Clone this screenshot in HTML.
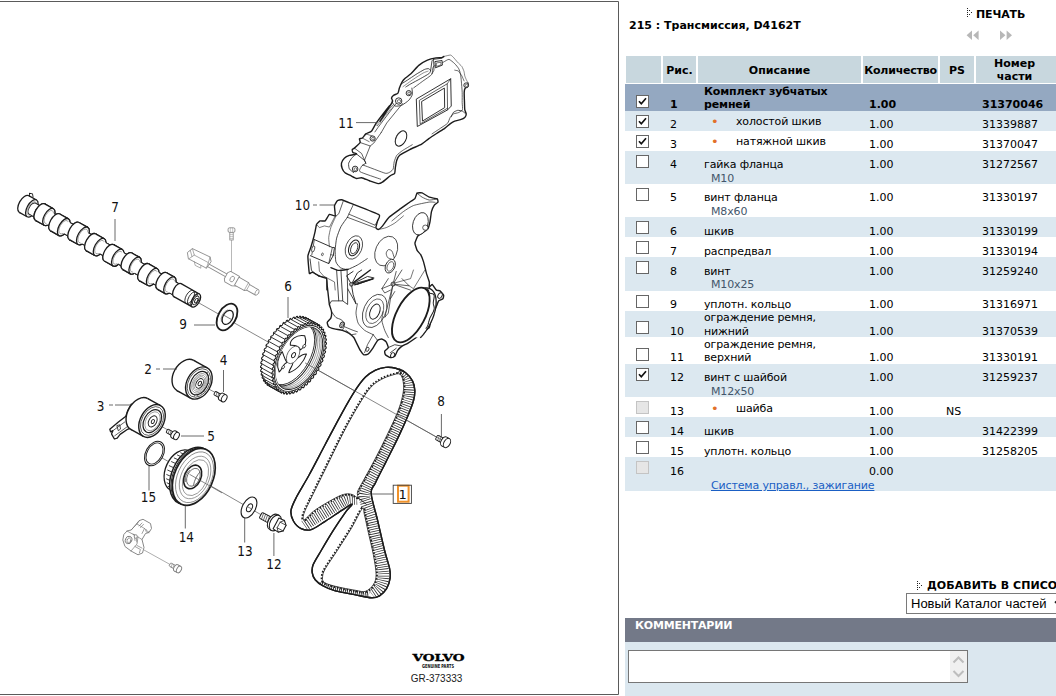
<!DOCTYPE html>
<html lang="ru"><head><meta charset="utf-8"><title>215 : Трансмиссия, D4162T</title>
<style>
html,body{margin:0;padding:0;background:#fff;}
body{width:1056px;height:696px;overflow:hidden;position:relative;font-family:"DejaVu Sans","Liberation Sans",sans-serif;font-size:11px;color:#000;line-height:13px;}
.a{position:absolute;white-space:nowrap;}
.b{font-weight:bold;}
.hd{position:absolute;top:56px;height:27px;background:#c8d7de;font-weight:bold;text-align:center;}
.row{position:absolute;left:625px;width:431px;}
.cb{position:absolute;left:11px;width:11px;height:11px;border:1px solid #666;background:#fff;}
.cb.dis{border-color:#c4c4c4;background:#e6e6e6;}
.cb svg{position:absolute;left:0;top:0;}
.t{position:absolute;white-space:nowrap;}
.d{letter-spacing:-0.15px;}
.sub{color:#43566b;}
.dot{color:#e2702a;}
a.lk{color:#1a5fc4;text-decoration:underline;}
#diagram{position:absolute;left:0;top:0;}
</style></head><body>
<svg id="diagram" width="620" height="696" viewBox="0 0 620 696" font-family="'DejaVu Sans Condensed','DejaVu Sans','Liberation Sans',sans-serif" fill="#111">
<path d="M0 1.5H618.5V694.5H0" fill="none" stroke="#5a5a5a" stroke-width="1"/>
<path d="M199 303 L447 443" fill="none" stroke="#555" stroke-width="0.7"/>
<path d="M199 384 L222 396" fill="none" stroke="#555" stroke-width="0.7"/>
<path d="M152 421 L175 434" fill="none" stroke="#555" stroke-width="0.7"/>
<path d="M150 451 L279 525" fill="none" stroke="#555" stroke-width="0.7"/>
<path d="M144 550 L171 565" fill="none" stroke="#777" stroke-width="0.6"/>
<path d="M231.5 238 L231.5 277" fill="none" stroke="#888" stroke-width="0.6"/>
<g transform="translate(24 204) rotate(29.3)">
<ellipse cx="2" cy="0" rx="3.15" ry="6.3" fill="#fff" stroke="#1c1c1c" stroke-width="1.0"/>
<rect x="2" y="-6.3" width="176" height="12.6" fill="#fff"/>
<path d="M2 -6.3H178M2 6.3H178" stroke="#1c1c1c" stroke-width="1.0" fill="none"/>
<ellipse cx="178" cy="0" rx="3.15" ry="6.3" fill="#fff" stroke="#1c1c1c" stroke-width="1.0"/>
<ellipse cx="0" cy="0" rx="4.8" ry="9.6" fill="#fff" stroke="#1c1c1c" stroke-width="1.3"/>
<rect x="0" y="-9.6" width="9" height="19.2" fill="#fff"/>
<path d="M0 -9.6H9M0 9.6H9" stroke="#1c1c1c" stroke-width="1.3" fill="none"/>
<ellipse cx="9" cy="0" rx="4.8" ry="9.6" fill="#fff" stroke="#1c1c1c" stroke-width="1.3"/>
<ellipse cx="9" cy="0" rx="3.7" ry="7.4" fill="none" stroke="#555" stroke-width="0.5"/>
<ellipse cx="9.5" cy="0" rx="3.15" ry="6.3" fill="#fff" stroke="#1c1c1c" stroke-width="0.9"/>
<rect x="9.5" y="-6.3" width="11.5" height="12.6" fill="#fff"/>
<path d="M9.5 -6.3H21M9.5 6.3H21" stroke="#1c1c1c" stroke-width="0.9" fill="none"/>
<ellipse cx="18" cy="-0.8" rx="4.7" ry="9.4" fill="#fff" stroke="#1c1c1c" stroke-width="1.3"/>
<rect x="18" y="-10.2" width="10" height="18.8" fill="#fff"/>
<path d="M18 -10.2H28M18 8.6H28" stroke="#1c1c1c" stroke-width="1.3" fill="none"/>
<ellipse cx="28" cy="-0.8" rx="4.7" ry="9.4" fill="#fff" stroke="#1c1c1c" stroke-width="1.3"/>
<ellipse cx="28" cy="-0.8" rx="3.6" ry="7.2" fill="none" stroke="#555" stroke-width="0.5"/>
<ellipse cx="28.5" cy="0" rx="3.15" ry="6.3" fill="#fff" stroke="#1c1c1c" stroke-width="0.9"/>
<rect x="28.5" y="-6.3" width="10.5" height="12.6" fill="#fff"/>
<path d="M28.5 -6.3H39M28.5 6.3H39" stroke="#1c1c1c" stroke-width="0.9" fill="none"/>
<ellipse cx="36" cy="0.8" rx="4.8" ry="9.6" fill="#fff" stroke="#1c1c1c" stroke-width="1.3"/>
<rect x="36" y="-8.8" width="10" height="19.2" fill="#fff"/>
<path d="M36 -8.8H46M36 10.4H46" stroke="#1c1c1c" stroke-width="1.3" fill="none"/>
<ellipse cx="46" cy="0.8" rx="4.8" ry="9.6" fill="#fff" stroke="#1c1c1c" stroke-width="1.3"/>
<ellipse cx="46" cy="0.8" rx="3.7" ry="7.4" fill="none" stroke="#555" stroke-width="0.5"/>
<ellipse cx="46.5" cy="0" rx="3.15" ry="6.3" fill="#fff" stroke="#1c1c1c" stroke-width="0.9"/>
<rect x="46.5" y="-6.3" width="13.5" height="12.6" fill="#fff"/>
<path d="M46.5 -6.3H60M46.5 6.3H60" stroke="#1c1c1c" stroke-width="0.9" fill="none"/>
<ellipse cx="57" cy="-1" rx="4.9" ry="9.8" fill="#fff" stroke="#1c1c1c" stroke-width="1.3"/>
<rect x="57" y="-10.8" width="10" height="19.6" fill="#fff"/>
<path d="M57 -10.8H67M57 8.8H67" stroke="#1c1c1c" stroke-width="1.3" fill="none"/>
<ellipse cx="67" cy="-1" rx="4.9" ry="9.8" fill="#fff" stroke="#1c1c1c" stroke-width="1.3"/>
<ellipse cx="67" cy="-1" rx="3.8" ry="7.6" fill="none" stroke="#555" stroke-width="0.5"/>
<ellipse cx="67.5" cy="0" rx="3.15" ry="6.3" fill="#fff" stroke="#1c1c1c" stroke-width="0.9"/>
<rect x="67.5" y="-6.3" width="12.5" height="12.6" fill="#fff"/>
<path d="M67.5 -6.3H80M67.5 6.3H80" stroke="#1c1c1c" stroke-width="0.9" fill="none"/>
<ellipse cx="77" cy="0.6" rx="4.8" ry="9.6" fill="#fff" stroke="#1c1c1c" stroke-width="1.3"/>
<rect x="77" y="-9" width="10" height="19.2" fill="#fff"/>
<path d="M77 -9H87M77 10.2H87" stroke="#1c1c1c" stroke-width="1.3" fill="none"/>
<ellipse cx="87" cy="0.6" rx="4.8" ry="9.6" fill="#fff" stroke="#1c1c1c" stroke-width="1.3"/>
<ellipse cx="87" cy="0.6" rx="3.7" ry="7.4" fill="none" stroke="#555" stroke-width="0.5"/>
<ellipse cx="87.5" cy="0" rx="3.15" ry="6.3" fill="#fff" stroke="#1c1c1c" stroke-width="0.9"/>
<rect x="87.5" y="-6.3" width="13.5" height="12.6" fill="#fff"/>
<path d="M87.5 -6.3H101M87.5 6.3H101" stroke="#1c1c1c" stroke-width="0.9" fill="none"/>
<ellipse cx="98" cy="1" rx="4.7" ry="9.4" fill="#fff" stroke="#1c1c1c" stroke-width="1.3"/>
<rect x="98" y="-8.4" width="10" height="18.8" fill="#fff"/>
<path d="M98 -8.4H108M98 10.4H108" stroke="#1c1c1c" stroke-width="1.3" fill="none"/>
<ellipse cx="108" cy="1" rx="4.7" ry="9.4" fill="#fff" stroke="#1c1c1c" stroke-width="1.3"/>
<ellipse cx="108" cy="1" rx="3.6" ry="7.2" fill="none" stroke="#555" stroke-width="0.5"/>
<ellipse cx="108.5" cy="0" rx="3.15" ry="6.3" fill="#fff" stroke="#1c1c1c" stroke-width="0.9"/>
<rect x="108.5" y="-6.3" width="12.5" height="12.6" fill="#fff"/>
<path d="M108.5 -6.3H121M108.5 6.3H121" stroke="#1c1c1c" stroke-width="0.9" fill="none"/>
<ellipse cx="118" cy="-0.6" rx="4.7" ry="9.4" fill="#fff" stroke="#1c1c1c" stroke-width="1.3"/>
<rect x="118" y="-10" width="9" height="18.8" fill="#fff"/>
<path d="M118 -10H127M118 8.8H127" stroke="#1c1c1c" stroke-width="1.3" fill="none"/>
<ellipse cx="127" cy="-0.6" rx="4.7" ry="9.4" fill="#fff" stroke="#1c1c1c" stroke-width="1.3"/>
<ellipse cx="127" cy="-0.6" rx="3.6" ry="7.2" fill="none" stroke="#555" stroke-width="0.5"/>
<ellipse cx="127.5" cy="0" rx="3.15" ry="6.3" fill="#fff" stroke="#1c1c1c" stroke-width="0.9"/>
<rect x="127.5" y="-6.3" width="13.5" height="12.6" fill="#fff"/>
<path d="M127.5 -6.3H141M127.5 6.3H141" stroke="#1c1c1c" stroke-width="0.9" fill="none"/>
<ellipse cx="138" cy="0.8" rx="4.8" ry="9.6" fill="#fff" stroke="#1c1c1c" stroke-width="1.3"/>
<rect x="138" y="-8.8" width="10" height="19.2" fill="#fff"/>
<path d="M138 -8.8H148M138 10.4H148" stroke="#1c1c1c" stroke-width="1.3" fill="none"/>
<ellipse cx="148" cy="0.8" rx="4.8" ry="9.6" fill="#fff" stroke="#1c1c1c" stroke-width="1.3"/>
<ellipse cx="148" cy="0.8" rx="3.7" ry="7.4" fill="none" stroke="#555" stroke-width="0.5"/>
<ellipse cx="148.5" cy="0" rx="3.15" ry="6.3" fill="#fff" stroke="#1c1c1c" stroke-width="0.9"/>
<rect x="148.5" y="-6.3" width="12.5" height="12.6" fill="#fff"/>
<path d="M148.5 -6.3H161M148.5 6.3H161" stroke="#1c1c1c" stroke-width="0.9" fill="none"/>
<ellipse cx="158" cy="-0.4" rx="4.7" ry="9.4" fill="#fff" stroke="#1c1c1c" stroke-width="1.3"/>
<rect x="158" y="-9.8" width="9" height="18.8" fill="#fff"/>
<path d="M158 -9.8H167M158 9H167" stroke="#1c1c1c" stroke-width="1.3" fill="none"/>
<ellipse cx="167" cy="-0.4" rx="4.7" ry="9.4" fill="#fff" stroke="#1c1c1c" stroke-width="1.3"/>
<ellipse cx="167" cy="-0.4" rx="3.6" ry="7.2" fill="none" stroke="#555" stroke-width="0.5"/>
<ellipse cx="167.5" cy="0" rx="3.15" ry="6.3" fill="#fff" stroke="#1c1c1c" stroke-width="0.9"/>
<rect x="167.5" y="-6.3" width="13.5" height="12.6" fill="#fff"/>
<path d="M167.5 -6.3H181M167.5 6.3H181" stroke="#1c1c1c" stroke-width="0.9" fill="none"/>
<ellipse cx="18" cy="-0.8" rx="4.7" ry="9.4" fill="#fff" stroke="#1c1c1c" stroke-width="1.3"/>
<rect x="18" y="-10.2" width="10" height="18.8" fill="#fff"/>
<path d="M18 -10.2H28M18 8.6H28" stroke="#1c1c1c" stroke-width="1.3" fill="none"/>
<ellipse cx="28" cy="-0.8" rx="4.7" ry="9.4" fill="#fff" stroke="#1c1c1c" stroke-width="1.3"/>
<ellipse cx="28" cy="-0.8" rx="3.6" ry="7.2" fill="none" stroke="#555" stroke-width="0.5"/>
<rect x="29" y="-6.3" width="7" height="12.6" fill="#fff"/>
<path d="M31.2 -6.3H36M31.2 6.3H36" stroke="#1c1c1c" stroke-width="0.9" fill="none"/>
<ellipse cx="36" cy="0.8" rx="4.8" ry="9.6" fill="#fff" stroke="#1c1c1c" stroke-width="1.3"/>
<rect x="36" y="-8.8" width="10" height="19.2" fill="#fff"/>
<path d="M36 -8.8H46M36 10.4H46" stroke="#1c1c1c" stroke-width="1.3" fill="none"/>
<ellipse cx="46" cy="0.8" rx="4.8" ry="9.6" fill="#fff" stroke="#1c1c1c" stroke-width="1.3"/>
<ellipse cx="46" cy="0.8" rx="3.7" ry="7.4" fill="none" stroke="#555" stroke-width="0.5"/>
<rect x="47" y="-6.3" width="8" height="12.6" fill="#fff"/>
<path d="M49.2 -6.3H57M49.2 6.3H57" stroke="#1c1c1c" stroke-width="0.9" fill="none"/>
<ellipse cx="57" cy="-1" rx="4.9" ry="9.8" fill="#fff" stroke="#1c1c1c" stroke-width="1.3"/>
<rect x="57" y="-10.8" width="10" height="19.6" fill="#fff"/>
<path d="M57 -10.8H67M57 8.8H67" stroke="#1c1c1c" stroke-width="1.3" fill="none"/>
<ellipse cx="67" cy="-1" rx="4.9" ry="9.8" fill="#fff" stroke="#1c1c1c" stroke-width="1.3"/>
<ellipse cx="67" cy="-1" rx="3.8" ry="7.6" fill="none" stroke="#555" stroke-width="0.5"/>
<rect x="68" y="-6.3" width="8" height="12.6" fill="#fff"/>
<path d="M70.2 -6.3H77M70.2 6.3H77" stroke="#1c1c1c" stroke-width="0.9" fill="none"/>
<ellipse cx="77" cy="0.6" rx="4.8" ry="9.6" fill="#fff" stroke="#1c1c1c" stroke-width="1.3"/>
<rect x="77" y="-9" width="10" height="19.2" fill="#fff"/>
<path d="M77 -9H87M77 10.2H87" stroke="#1c1c1c" stroke-width="1.3" fill="none"/>
<ellipse cx="87" cy="0.6" rx="4.8" ry="9.6" fill="#fff" stroke="#1c1c1c" stroke-width="1.3"/>
<ellipse cx="87" cy="0.6" rx="3.7" ry="7.4" fill="none" stroke="#555" stroke-width="0.5"/>
<rect x="88" y="-6.3" width="8" height="12.6" fill="#fff"/>
<path d="M90.2 -6.3H98M90.2 6.3H98" stroke="#1c1c1c" stroke-width="0.9" fill="none"/>
<ellipse cx="98" cy="1" rx="4.7" ry="9.4" fill="#fff" stroke="#1c1c1c" stroke-width="1.3"/>
<rect x="98" y="-8.4" width="10" height="18.8" fill="#fff"/>
<path d="M98 -8.4H108M98 10.4H108" stroke="#1c1c1c" stroke-width="1.3" fill="none"/>
<ellipse cx="108" cy="1" rx="4.7" ry="9.4" fill="#fff" stroke="#1c1c1c" stroke-width="1.3"/>
<ellipse cx="108" cy="1" rx="3.6" ry="7.2" fill="none" stroke="#555" stroke-width="0.5"/>
<rect x="109" y="-6.3" width="8" height="12.6" fill="#fff"/>
<path d="M111.2 -6.3H118M111.2 6.3H118" stroke="#1c1c1c" stroke-width="0.9" fill="none"/>
<ellipse cx="118" cy="-0.6" rx="4.7" ry="9.4" fill="#fff" stroke="#1c1c1c" stroke-width="1.3"/>
<rect x="118" y="-10" width="9" height="18.8" fill="#fff"/>
<path d="M118 -10H127M118 8.8H127" stroke="#1c1c1c" stroke-width="1.3" fill="none"/>
<ellipse cx="127" cy="-0.6" rx="4.7" ry="9.4" fill="#fff" stroke="#1c1c1c" stroke-width="1.3"/>
<ellipse cx="127" cy="-0.6" rx="3.6" ry="7.2" fill="none" stroke="#555" stroke-width="0.5"/>
<rect x="128" y="-6.3" width="8" height="12.6" fill="#fff"/>
<path d="M130.2 -6.3H138M130.2 6.3H138" stroke="#1c1c1c" stroke-width="0.9" fill="none"/>
<ellipse cx="138" cy="0.8" rx="4.8" ry="9.6" fill="#fff" stroke="#1c1c1c" stroke-width="1.3"/>
<rect x="138" y="-8.8" width="10" height="19.2" fill="#fff"/>
<path d="M138 -8.8H148M138 10.4H148" stroke="#1c1c1c" stroke-width="1.3" fill="none"/>
<ellipse cx="148" cy="0.8" rx="4.8" ry="9.6" fill="#fff" stroke="#1c1c1c" stroke-width="1.3"/>
<ellipse cx="148" cy="0.8" rx="3.7" ry="7.4" fill="none" stroke="#555" stroke-width="0.5"/>
<rect x="149" y="-6.3" width="8" height="12.6" fill="#fff"/>
<path d="M151.2 -6.3H158M151.2 6.3H158" stroke="#1c1c1c" stroke-width="0.9" fill="none"/>
<ellipse cx="158" cy="-0.4" rx="4.7" ry="9.4" fill="#fff" stroke="#1c1c1c" stroke-width="1.3"/>
<rect x="158" y="-9.8" width="9" height="18.8" fill="#fff"/>
<path d="M158 -9.8H167M158 9H167" stroke="#1c1c1c" stroke-width="1.3" fill="none"/>
<ellipse cx="167" cy="-0.4" rx="4.7" ry="9.4" fill="#fff" stroke="#1c1c1c" stroke-width="1.3"/>
<ellipse cx="167" cy="-0.4" rx="3.6" ry="7.2" fill="none" stroke="#555" stroke-width="0.5"/>
<rect x="168" y="-6.3" width="8" height="12.6" fill="#fff"/>
<path d="M170.2 -6.3H178M170.2 6.3H178" stroke="#1c1c1c" stroke-width="0.9" fill="none"/>
<ellipse cx="176" cy="0" rx="3.7" ry="7.4" fill="#fff" stroke="#1c1c1c" stroke-width="1.3"/>
<rect x="176" y="-7.4" width="21" height="14.8" fill="#fff"/>
<path d="M176 -7.4H197M176 7.4H197" stroke="#1c1c1c" stroke-width="1.3" fill="none"/>
<ellipse cx="197" cy="0" rx="3.7" ry="7.4" fill="#fff" stroke="#1c1c1c" stroke-width="1.3"/>
<ellipse cx="190" cy="0" rx="3.7" ry="7.4" fill="none" stroke="#1c1c1c" stroke-width="0.8"/>
<ellipse cx="193" cy="0" rx="3.7" ry="7.4" fill="none" stroke="#1c1c1c" stroke-width="0.8"/>
<ellipse cx="197" cy="0" rx="2.4" ry="4.8" fill="#fff" stroke="#1c1c1c" stroke-width="0.9"/>
<ellipse cx="197.5" cy="0" rx="1.25" ry="2.5" fill="#fff" stroke="#1c1c1c" stroke-width="0.9"/>
<path d="M1 -9.5 l-1.5 -2.5 l3 -1 l2 2.5" fill="none" stroke="#1c1c1c" stroke-width="0.9" stroke-linejoin="round" stroke-linecap="round"/>
</g>
<path d="M115 219 L115 241" fill="none" stroke="#444" stroke-width="0.8"/>
<text x="115" y="212" font-size="13.4" text-anchor="middle">7</text>
<g transform="translate(227 317) rotate(29.3)">
<ellipse cx="0" cy="0" rx="8.8" ry="14.4" fill="#fff" stroke="#1c1c1c" stroke-width="1.8"/>
<ellipse cx="0.8" cy="0" rx="4.8" ry="7.6" fill="#fff" stroke="#1c1c1c" stroke-width="1.3"/>
<path d="M-2.8 -6.6 A4.6 7.6 0 0 0 -2.8 6.6" fill="none" stroke="#555" stroke-width="0.6" stroke-linejoin="round" stroke-linecap="round"/>
<path d="M-3.6 0H5.4" stroke="#555" stroke-width="0.7"/>
</g>
<path d="M194 325 L215 325" fill="none" stroke="#444" stroke-width="0.8"/>
<text x="183" y="329" font-size="13.4" text-anchor="middle">9</text>
<g transform="translate(231.5 231) rotate(90)">
<rect x="-3.2" y="-3.4" width="4.6" height="6.8" rx="1.4" fill="#fff" stroke="#8a8a8a" stroke-width="0.9"/>
<path d="M-3.2 -1.2h4.6M-3.2 1.2h4.6" stroke="#8a8a8a" stroke-width="0.5"/>
<rect x="1.4" y="-1.7" width="7.6" height="3.4" fill="#fff" stroke="#8a8a8a" stroke-width="0.8"/>
<path d="M3.4 -1.7v3.4M5.4 -1.7v3.4M7.4 -1.7v3.4" stroke="#8a8a8a" stroke-width="0.5"/>
</g>
<path d="M187.7 252.3 L192.4 248.6 L210.1 257 L211.1 261.7 L206.4 268.2 L188.7 258.9 Z" fill="#fff" stroke="#8a8a8a" stroke-width="0.9" stroke-linejoin="round" stroke-linecap="round"/>
<path d="M192.4 248.6 L194.3 255.1 L188.7 258.9 M194.3 255.1 L208.3 262.6 L210.1 257 M208.3 262.6 L206.4 268.2 M194.3 261.7 L195.2 265.4 L200.8 268.2 L200.8 265.6 M190.3 250.4 L192 256.6" fill="none" stroke="#8a8a8a" stroke-width="0.7" stroke-linejoin="round" stroke-linecap="round"/>
<g transform="translate(188 251.5) rotate(29.3)">
<path d="M24 0.6 L51 0.6 M24 3.6 L51 3.6" fill="none" stroke="#8a8a8a" stroke-width="0.9" stroke-linejoin="round" stroke-linecap="round"/>
<path d="M47 -3.5 L57 -3.5 L59 -1 L59 6.5 L55 8.5 L47 8.5 L45 6 L45 -1 Z" fill="#fff" stroke="#8a8a8a" stroke-width="0.9" stroke-linejoin="round" stroke-linecap="round"/>
<ellipse cx="52" cy="2.4" rx="2" ry="3" fill="#fff" stroke="#8a8a8a" stroke-width="0.8"/>
<path d="M57 -2.5 L68 -2.5 L70 -1.2 L80 -1.2 L82 1.5 L80 5 L70 5 L68 6.5 L57 6.5 Z" fill="#fff" stroke="#8a8a8a" stroke-width="0.9" stroke-linejoin="round" stroke-linecap="round"/>
<path d="M68 -2.5 V6.5 M70 -1.2 V5" fill="none" stroke="#8a8a8a" stroke-width="0.6" stroke-linejoin="round" stroke-linecap="round"/>
<ellipse cx="80.2" cy="1.9" rx="1.6" ry="3.1" fill="#fff" stroke="#8a8a8a" stroke-width="0.7"/>
</g>
<g transform="translate(299.2 358.3) rotate(29)">
<path d="M9.5 0 L9.49 1.23 L8.48 2.34 L8.42 3.51 L9.32 4.89 L9.22 6.1 L8.14 6.99 L8 8.14 L8.79 9.7 L8.61 10.88 L7.47 11.53 L7.25 12.63 L7.92 14.36 L7.65 15.49 L6.47 15.88 L6.17 16.93 L6.72 18.79 L6.37 19.85 L5.17 19.99 L4.8 20.97 L5.2 22.92 L4.78 23.9 L3.58 23.78 L3.14 24.67 L3.4 26.7 L2.91 27.58 L1.73 27.19 L1.23 27.98 L1.34 30.05 L0.79 30.82 L-0.35 30.18 L-0.9 30.85 L-0.94 32.93 L-1.55 33.57 L-2.63 32.69 L-3.23 33.23 L-3.42 35.29 L-4.06 35.79 L-5.08 34.68 L-5.71 35.09 L-6.05 37.09 L-6.72 37.45 L-7.65 36.13 L-8.31 36.4 L-8.78 38.31 L-9.48 38.52 L-10.3 37.01 L-10.97 37.13 L-11.59 38.92 L-12.29 38.98 L-13 37.3 L-13.68 37.28 L-14.41 38.92 L-15.12 38.83 L-15.7 37.01 L-16.37 36.84 L-17.22 38.31 L-17.91 38.06 L-18.35 36.13 L-19 35.82 L-19.95 37.09 L-20.62 36.69 L-20.92 34.68 L-21.55 34.23 L-22.58 35.29 L-23.21 34.75 L-23.37 32.69 L-23.95 32.11 L-25.06 32.93 L-25.65 32.26 L-25.65 30.18 L-26.19 29.47 L-27.34 30.05 L-27.88 29.25 L-27.73 27.19 L-28.22 26.38 L-29.4 26.7 L-29.88 25.79 L-29.58 23.78 L-30 22.86 L-31.2 22.92 L-31.61 21.92 L-31.17 19.99 L-31.52 18.99 L-32.72 18.79 L-33.05 17.71 L-32.47 15.88 L-32.75 14.81 L-33.92 14.36 L-34.17 13.21 L-33.47 11.53 L-33.66 10.41 L-34.79 9.7 L-34.96 8.51 L-34.14 6.99 L-34.25 5.84 L-35.32 4.89 L-35.4 3.67 L-34.48 2.34 L-34.51 1.17 L-35.5 0 L-35.49 -1.23 L-34.48 -2.34 L-34.42 -3.51 L-35.32 -4.89 L-35.22 -6.1 L-34.14 -6.99 L-34 -8.14 L-34.79 -9.7 L-34.61 -10.88 L-33.47 -11.53 L-33.25 -12.63 L-33.92 -14.36 L-33.65 -15.49 L-32.47 -15.88 L-32.17 -16.93 L-32.72 -18.79 L-32.37 -19.85 L-31.17 -19.99 L-30.8 -20.97 L-31.2 -22.92 L-30.78 -23.9 L-29.58 -23.78 L-29.14 -24.67 L-29.4 -26.7 L-28.91 -27.58 L-27.73 -27.19 L-27.23 -27.98 L-27.34 -30.05 L-26.79 -30.82 L-25.65 -30.18 L-25.1 -30.85 L-25.06 -32.93 L-24.45 -33.57 L-23.37 -32.69 L-22.77 -33.23 L-22.58 -35.29 L-21.94 -35.79 L-20.92 -34.68 L-20.29 -35.09 L-19.95 -37.09 L-19.28 -37.45 L-18.35 -36.13 L-17.69 -36.4 L-17.22 -38.31 L-16.52 -38.52 L-15.7 -37.01 L-15.03 -37.13 L-14.41 -38.92 L-13.71 -38.98 L-13 -37.3 L-12.32 -37.28 L-11.59 -38.92 L-10.88 -38.83 L-10.3 -37.01 L-9.63 -36.84 L-8.78 -38.31 L-8.09 -38.06 L-7.65 -36.13 L-7 -35.82 L-6.05 -37.09 L-5.38 -36.69 L-5.08 -34.68 L-4.45 -34.23 L-3.42 -35.29 L-2.79 -34.75 L-2.63 -32.69 L-2.05 -32.11 L-0.94 -32.93 L-0.35 -32.26 L-0.35 -30.18 L0.19 -29.47 L1.34 -30.05 L1.88 -29.25 L1.73 -27.19 L2.22 -26.38 L3.4 -26.7 L3.88 -25.79 L3.58 -23.78 L4 -22.86 L5.2 -22.92 L5.61 -21.92 L5.17 -19.99 L5.52 -18.99 L6.72 -18.79 L7.05 -17.71 L6.47 -15.88 L6.75 -14.81 L7.92 -14.36 L8.17 -13.21 L7.47 -11.53 L7.66 -10.41 L8.79 -9.7 L8.96 -8.51 L8.14 -6.99 L8.25 -5.84 L9.32 -4.89 L9.4 -3.67 L8.48 -2.34 L8.51 -1.17 L9.5 -0Z" fill="#fff" stroke="#1c1c1c" stroke-width="1.0"/>
<rect x="-13" y="-38.2" width="13" height="76.4" fill="#fff"/>
<path d="M-14.41 38.92L-1.41 38.92" stroke="#1c1c1c" stroke-width="0.8"/>
<path d="M-17.22 38.31L-4.22 38.31" stroke="#1c1c1c" stroke-width="0.8"/>
<path d="M-19.95 37.09L-6.95 37.09" stroke="#1c1c1c" stroke-width="0.8"/>
<path d="M-22.58 35.29L-9.58 35.29" stroke="#1c1c1c" stroke-width="0.8"/>
<path d="M-25.06 32.93L-12.06 32.93" stroke="#1c1c1c" stroke-width="0.8"/>
<path d="M-27.34 30.05L-14.34 30.05" stroke="#1c1c1c" stroke-width="0.8"/>
<path d="M-29.4 26.7L-16.4 26.7" stroke="#1c1c1c" stroke-width="0.8"/>
<path d="M-31.2 22.92L-18.2 22.92" stroke="#1c1c1c" stroke-width="0.8"/>
<path d="M-32.72 18.79L-19.72 18.79" stroke="#1c1c1c" stroke-width="0.8"/>
<path d="M-33.92 14.36L-20.92 14.36" stroke="#1c1c1c" stroke-width="0.8"/>
<path d="M-34.79 9.7L-21.79 9.7" stroke="#1c1c1c" stroke-width="0.8"/>
<path d="M-35.32 4.89L-22.32 4.89" stroke="#1c1c1c" stroke-width="0.8"/>
<path d="M-35.5 0L-22.5 0" stroke="#1c1c1c" stroke-width="0.8"/>
<path d="M-35.32 -4.89L-22.32 -4.89" stroke="#1c1c1c" stroke-width="0.8"/>
<path d="M-34.79 -9.7L-21.79 -9.7" stroke="#1c1c1c" stroke-width="0.8"/>
<path d="M-33.92 -14.36L-20.92 -14.36" stroke="#1c1c1c" stroke-width="0.8"/>
<path d="M-32.72 -18.79L-19.72 -18.79" stroke="#1c1c1c" stroke-width="0.8"/>
<path d="M-31.2 -22.92L-18.2 -22.92" stroke="#1c1c1c" stroke-width="0.8"/>
<path d="M-29.4 -26.7L-16.4 -26.7" stroke="#1c1c1c" stroke-width="0.8"/>
<path d="M-27.34 -30.05L-14.34 -30.05" stroke="#1c1c1c" stroke-width="0.8"/>
<path d="M-25.06 -32.93L-12.06 -32.93" stroke="#1c1c1c" stroke-width="0.8"/>
<path d="M-22.58 -35.29L-9.58 -35.29" stroke="#1c1c1c" stroke-width="0.8"/>
<path d="M-19.95 -37.09L-6.95 -37.09" stroke="#1c1c1c" stroke-width="0.8"/>
<path d="M-17.22 -38.31L-4.22 -38.31" stroke="#1c1c1c" stroke-width="0.8"/>
<path d="M-14.41 -38.92L-1.41 -38.92" stroke="#1c1c1c" stroke-width="0.8"/>
<path d="M-11.59 -38.92L1.41 -38.92" stroke="#1c1c1c" stroke-width="0.8"/>
<path d="M-11.59 38.92L1.41 38.92" stroke="#1c1c1c" stroke-width="0.8"/>
<path d="M22.5 0 L22.49 1.23 L21.48 2.34 L21.42 3.51 L22.32 4.89 L22.22 6.1 L21.14 6.99 L21 8.14 L21.79 9.7 L21.61 10.88 L20.47 11.53 L20.25 12.63 L20.92 14.36 L20.65 15.49 L19.47 15.88 L19.17 16.93 L19.72 18.79 L19.37 19.85 L18.17 19.99 L17.8 20.97 L18.2 22.92 L17.78 23.9 L16.58 23.78 L16.14 24.67 L16.4 26.7 L15.91 27.58 L14.73 27.19 L14.23 27.98 L14.34 30.05 L13.79 30.82 L12.65 30.18 L12.1 30.85 L12.06 32.93 L11.45 33.57 L10.37 32.69 L9.77 33.23 L9.58 35.29 L8.94 35.79 L7.92 34.68 L7.29 35.09 L6.95 37.09 L6.28 37.45 L5.35 36.13 L4.69 36.4 L4.22 38.31 L3.52 38.52 L2.7 37.01 L2.03 37.13 L1.41 38.92 L0.71 38.98 L0 37.3 L-0.68 37.28 L-1.41 38.92 L-2.12 38.83 L-2.7 37.01 L-3.37 36.84 L-4.22 38.31 L-4.91 38.06 L-5.35 36.13 L-6 35.82 L-6.95 37.09 L-7.62 36.69 L-7.92 34.68 L-8.55 34.23 L-9.58 35.29 L-10.21 34.75 L-10.37 32.69 L-10.95 32.11 L-12.06 32.93 L-12.65 32.26 L-12.65 30.18 L-13.19 29.47 L-14.34 30.05 L-14.88 29.25 L-14.73 27.19 L-15.22 26.38 L-16.4 26.7 L-16.88 25.79 L-16.58 23.78 L-17 22.86 L-18.2 22.92 L-18.61 21.92 L-18.17 19.99 L-18.52 18.99 L-19.72 18.79 L-20.05 17.71 L-19.47 15.88 L-19.75 14.81 L-20.92 14.36 L-21.17 13.21 L-20.47 11.53 L-20.66 10.41 L-21.79 9.7 L-21.96 8.51 L-21.14 6.99 L-21.25 5.84 L-22.32 4.89 L-22.4 3.67 L-21.48 2.34 L-21.51 1.17 L-22.5 0 L-22.49 -1.23 L-21.48 -2.34 L-21.42 -3.51 L-22.32 -4.89 L-22.22 -6.1 L-21.14 -6.99 L-21 -8.14 L-21.79 -9.7 L-21.61 -10.88 L-20.47 -11.53 L-20.25 -12.63 L-20.92 -14.36 L-20.65 -15.49 L-19.47 -15.88 L-19.17 -16.93 L-19.72 -18.79 L-19.37 -19.85 L-18.17 -19.99 L-17.8 -20.97 L-18.2 -22.92 L-17.78 -23.9 L-16.58 -23.78 L-16.14 -24.67 L-16.4 -26.7 L-15.91 -27.58 L-14.73 -27.19 L-14.23 -27.98 L-14.34 -30.05 L-13.79 -30.82 L-12.65 -30.18 L-12.1 -30.85 L-12.06 -32.93 L-11.45 -33.57 L-10.37 -32.69 L-9.77 -33.23 L-9.58 -35.29 L-8.94 -35.79 L-7.92 -34.68 L-7.29 -35.09 L-6.95 -37.09 L-6.28 -37.45 L-5.35 -36.13 L-4.69 -36.4 L-4.22 -38.31 L-3.52 -38.52 L-2.7 -37.01 L-2.03 -37.13 L-1.41 -38.92 L-0.71 -38.98 L-0 -37.3 L0.68 -37.28 L1.41 -38.92 L2.12 -38.83 L2.7 -37.01 L3.37 -36.84 L4.22 -38.31 L4.91 -38.06 L5.35 -36.13 L6 -35.82 L6.95 -37.09 L7.62 -36.69 L7.92 -34.68 L8.55 -34.23 L9.58 -35.29 L10.21 -34.75 L10.37 -32.69 L10.95 -32.11 L12.06 -32.93 L12.65 -32.26 L12.65 -30.18 L13.19 -29.47 L14.34 -30.05 L14.88 -29.25 L14.73 -27.19 L15.22 -26.38 L16.4 -26.7 L16.88 -25.79 L16.58 -23.78 L17 -22.86 L18.2 -22.92 L18.61 -21.92 L18.17 -19.99 L18.52 -18.99 L19.72 -18.79 L20.05 -17.71 L19.47 -15.88 L19.75 -14.81 L20.92 -14.36 L21.17 -13.21 L20.47 -11.53 L20.66 -10.41 L21.79 -9.7 L21.96 -8.51 L21.14 -6.99 L21.25 -5.84 L22.32 -4.89 L22.4 -3.67 L21.48 -2.34 L21.51 -1.17 L22.5 -0Z" fill="#fff" stroke="#1c1c1c" stroke-width="1.1"/>
<ellipse cx="0" cy="0" rx="20.5" ry="36" fill="#fff" stroke="#1c1c1c" stroke-width="0.9"/>
<ellipse cx="0" cy="0" rx="19.1" ry="34" fill="#fff" stroke="#1c1c1c" stroke-width="0.9"/>
<clipPath id="sprclip"><ellipse cx="0" cy="0" rx="19.1" ry="34"/></clipPath>
<g clip-path="url(#sprclip)">
<ellipse cx="-1.6" cy="0" rx="19.1" ry="34" fill="none" stroke="#555" stroke-width="0.5"/>
<ellipse cx="-3.4" cy="0" rx="19.1" ry="34" fill="none" stroke="#555" stroke-width="0.5"/>
<ellipse cx="-5.4" cy="0" rx="19.1" ry="34" fill="none" stroke="#555" stroke-width="0.5"/>
<ellipse cx="-7.4" cy="0" rx="19.1" ry="34" fill="none" stroke="#1c1c1c" stroke-width="0.9"/>
<ellipse cx="-8.5" cy="0" rx="18.5" ry="33.4" fill="#fff" stroke="#1c1c1c" stroke-width="0.8"/>
<g transform="translate(-8.5 0) scale(0.8) translate(8.5 0)">
<path d="M-5.5 -28 C-15.5 -25 -19.5 -14 -15.5 -9 C-10.5 -12 -4.5 -13 -1.5 -10 C1.5 -16 0.5 -23 -5.5 -28Z" fill="#fff" stroke="#1c1c1c" stroke-width="1.3" stroke-linejoin="round" stroke-linecap="round"/>
<path d="M7.5 -9 C9.5 2 6.5 15 -0.5 22 C-2.5 17 0.5 10 -3.0 7.5 C0.5 2 1.5 -6 7.5 -9Z" fill="#fff" stroke="#1c1c1c" stroke-width="1.3" stroke-linejoin="round" stroke-linecap="round"/>
<path d="M-20.5 3 C-22.5 12 -18.5 22 -11.5 27 C-9.5 22 -12.5 15 -8.5 12 C-13.5 10 -16.5 6 -20.5 3Z" fill="#fff" stroke="#1c1c1c" stroke-width="1.3" stroke-linejoin="round" stroke-linecap="round"/>
</g>
<ellipse cx="-7" cy="0" rx="5.6" ry="9.5" fill="#fff" stroke="#444" stroke-width="0.7"/>
<ellipse cx="-6.5" cy="0" rx="1.7" ry="2.8" fill="#fff" stroke="#1c1c1c" stroke-width="0.9"/>
<ellipse cx="-1.5" cy="-13" rx="1.2" ry="2" fill="#fff" stroke="#1c1c1c" stroke-width="0.8"/>
<ellipse cx="-9.7" cy="15.5" rx="1.1" ry="1.8" fill="#fff" stroke="#1c1c1c" stroke-width="0.8"/>
</g>
</g>
<path d="M305 362.84 L333 378.64" fill="none" stroke="#555" stroke-width="0.7"/>
<path d="M288 297 L288 318" fill="none" stroke="#444" stroke-width="0.8"/>
<text x="288" y="291" font-size="13.4" text-anchor="middle">6</text>
<g transform="translate(198.9 383) rotate(29)">
<ellipse cx="-15.5" cy="0" rx="11.87" ry="17.2" fill="#fff" stroke="#1c1c1c" stroke-width="1.4"/>
<rect x="-15.5" y="-17.2" width="15.5" height="34.4" fill="#fff"/>
<path d="M-15.5 -17.2H0M-15.5 17.2H0" stroke="#1c1c1c" stroke-width="1.4" fill="none"/>
<ellipse cx="0" cy="0" rx="11.87" ry="17.2" fill="#fff" stroke="#1c1c1c" stroke-width="1.4"/>
<ellipse cx="0" cy="0" rx="10.4" ry="15.2" fill="#fff" stroke="#333" stroke-width="0.7"/>
<ellipse cx="0.3" cy="0" rx="8.2" ry="12.6" fill="#fff" stroke="#1c1c1c" stroke-width="1.2"/>
<ellipse cx="0.6" cy="0" rx="6.78" ry="10.6" fill="none" stroke="#555" stroke-width="0.5"/>
<ellipse cx="0.6" cy="0" rx="5.63" ry="8.8" fill="none" stroke="#555" stroke-width="0.5"/>
<ellipse cx="0.6" cy="0" rx="4.61" ry="7.2" fill="none" stroke="#555" stroke-width="0.5"/>
<ellipse cx="0.8" cy="0" rx="3.3" ry="5.2" fill="#fff" stroke="#1c1c1c" stroke-width="0.9"/>
<ellipse cx="1" cy="0" rx="1.5" ry="2.4" fill="#fff" stroke="#1c1c1c" stroke-width="0.9"/>
<path d="M2.17 -12.36L2.48 -14.1" stroke="#333" stroke-width="0.6"/>
<path d="M4.67 -10.64L5.33 -12.14" stroke="#333" stroke-width="0.6"/>
<path d="M6.66 -7.79L7.62 -8.89" stroke="#333" stroke-width="0.6"/>
<path d="M7.95 -4.11L9.09 -4.69" stroke="#333" stroke-width="0.6"/>
<path d="M8.4 0L9.6 0" stroke="#333" stroke-width="0.6"/>
<path d="M7.95 4.11L9.09 4.69" stroke="#333" stroke-width="0.6"/>
<path d="M6.66 7.79L7.62 8.89" stroke="#333" stroke-width="0.6"/>
<path d="M4.67 10.64L5.33 12.14" stroke="#333" stroke-width="0.6"/>
<path d="M2.17 12.36L2.48 14.1" stroke="#333" stroke-width="0.6"/>
</g>
<path d="M156 369 L160 369" fill="none" stroke="#444" stroke-width="0.8"/>
<path d="M163 369 L177 369" fill="none" stroke="#444" stroke-width="0.8"/>
<text x="148" y="374" font-size="13.4" text-anchor="middle">2</text>
<g transform="translate(224.2 398.3) rotate(29)">
<rect x="-11" y="-1.95" width="8" height="3.9" rx="1" fill="#fff" stroke="#1c1c1c" stroke-width="0.9"/>
<path d="M-9.2 -1.95l0.8 3.9" stroke="#1c1c1c" stroke-width="0.5" fill="none"/>
<path d="M-7.2 -1.95l0.8 3.9" stroke="#1c1c1c" stroke-width="0.5" fill="none"/>
<path d="M-5.2 -1.95l0.8 3.9" stroke="#1c1c1c" stroke-width="0.5" fill="none"/>
<ellipse cx="-3.2" cy="0" rx="2.42" ry="3.9" fill="#fff" stroke="#1c1c1c" stroke-width="1.0"/>
<rect x="-3.2" y="-3.9" width="3.2" height="7.8" fill="#fff"/>
<path d="M-3.2 -3.9H0M-3.2 3.9H0" stroke="#1c1c1c" stroke-width="1.0" fill="none"/>
<ellipse cx="0" cy="0" rx="2.42" ry="3.9" fill="#fff" stroke="#1c1c1c" stroke-width="1.0"/>
</g>
<path d="M223.5 370 L223.5 392" fill="none" stroke="#444" stroke-width="0.8"/>
<text x="223.5" y="365" font-size="13.4" text-anchor="middle">4</text>
<path d="M131.3 404.0 L127.6 410.9 L125.9 416.3 L118.4 422.0 L109.8 429.3 L110.6 431.9 L112.9 430.7 L111.5 433.9 L114.4 439.0 L117.2 438.1 L120.1 434.4 L127.6 429.3 L134.5 426.4 L137.9 413.7Z" fill="#fff" stroke="#1c1c1c" stroke-width="1.3" stroke-linejoin="round" stroke-linecap="round"/>
<path d="M117.2 425.5 L119.8 424.8 L120.5 429.1 L118.6 430.5Z" fill="none" stroke="#1c1c1c" stroke-width="0.8" stroke-linejoin="round" stroke-linecap="round"/>
<path d="M112.9 430.7 L124.7 422.0 M114.7 435.8 L127.4 426.6" fill="none" stroke="#1c1c1c" stroke-width="0.7" stroke-linejoin="round" stroke-linecap="round"/>
<g transform="translate(152 421) rotate(29)">
<ellipse cx="-14.5" cy="0" rx="11.62" ry="17.6" fill="#fff" stroke="#1c1c1c" stroke-width="1.4"/>
<rect x="-14.5" y="-17.6" width="14.5" height="35.2" fill="#fff"/>
<path d="M-14.5 -17.6H0M-14.5 17.6H0" stroke="#1c1c1c" stroke-width="1.4" fill="none"/>
<ellipse cx="0" cy="0" rx="11.62" ry="17.6" fill="#fff" stroke="#1c1c1c" stroke-width="1.4"/>
<ellipse cx="0" cy="0" rx="10.1" ry="15.4" fill="#fff" stroke="#333" stroke-width="0.7"/>
<ellipse cx="0.3" cy="0" rx="8.1" ry="12.4" fill="#fff" stroke="#1c1c1c" stroke-width="1.2"/>
<ellipse cx="0.6" cy="0" rx="6.6" ry="10.2" fill="none" stroke="#555" stroke-width="0.5"/>
<ellipse cx="0.8" cy="0" rx="3.9" ry="6" fill="#fff" stroke="#1c1c1c" stroke-width="0.9"/>
<ellipse cx="1" cy="0" rx="1.4" ry="2.2" fill="#fff" stroke="#1c1c1c" stroke-width="0.9"/>
</g>
<path d="M109 405 L113 405" fill="none" stroke="#444" stroke-width="0.8"/>
<path d="M115 405 L130 405" fill="none" stroke="#444" stroke-width="0.8"/>
<text x="100.5" y="411" font-size="13.4" text-anchor="middle">3</text>
<g transform="translate(176.5 436) rotate(29)">
<rect x="-11" y="-1.95" width="8" height="3.9" rx="1" fill="#fff" stroke="#1c1c1c" stroke-width="0.9"/>
<path d="M-9.2 -1.95l0.8 3.9" stroke="#1c1c1c" stroke-width="0.5" fill="none"/>
<path d="M-7.2 -1.95l0.8 3.9" stroke="#1c1c1c" stroke-width="0.5" fill="none"/>
<path d="M-5.2 -1.95l0.8 3.9" stroke="#1c1c1c" stroke-width="0.5" fill="none"/>
<ellipse cx="-3.2" cy="0" rx="2.42" ry="3.9" fill="#fff" stroke="#1c1c1c" stroke-width="1.0"/>
<rect x="-3.2" y="-3.9" width="3.2" height="7.8" fill="#fff"/>
<path d="M-3.2 -3.9H0M-3.2 3.9H0" stroke="#1c1c1c" stroke-width="1.0" fill="none"/>
<ellipse cx="0" cy="0" rx="2.42" ry="3.9" fill="#fff" stroke="#1c1c1c" stroke-width="1.0"/>
</g>
<path d="M181 436 L204 436" fill="none" stroke="#444" stroke-width="0.8"/>
<text x="211" y="441" font-size="13.4" text-anchor="middle">5</text>
<g transform="translate(154.5 453.5) rotate(29)">
<ellipse cx="0" cy="0" rx="8.8" ry="13.2" fill="#fff" stroke="#1c1c1c" stroke-width="1.0"/>
<ellipse cx="0" cy="0" rx="7.4" ry="11.4" fill="#fff" stroke="#1c1c1c" stroke-width="0.9"/>
</g>
<path d="M149 466 L149 490.5" fill="none" stroke="#444" stroke-width="0.8"/>
<text x="148.5" y="501.5" font-size="13.4" text-anchor="middle">15</text>
<g transform="translate(193.8 476.9) rotate(24.5)">
<ellipse cx="-15" cy="0" rx="14.6" ry="21.8" fill="#fff" stroke="#1c1c1c" stroke-width="1.3"/>
<rect x="-15" y="-21.8" width="12" height="43.6" fill="#fff"/>
<path d="M-15 -21.8H-3M-15 21.8H-3" stroke="#1c1c1c" stroke-width="1.3" fill="none"/>
<ellipse cx="-3" cy="0" rx="14.6" ry="21.8" fill="#fff" stroke="#1c1c1c" stroke-width="1.3"/>
<path d="M-16.76 20.94L-8.06 20.94" stroke="#2a2a2a" stroke-width="0.8"/>
<path d="M-19.66 19.17L-10.96 19.17" stroke="#2a2a2a" stroke-width="0.8"/>
<path d="M-22.23 16.51L-13.53 16.51" stroke="#2a2a2a" stroke-width="0.8"/>
<path d="M-24.37 13.1L-15.67 13.1" stroke="#2a2a2a" stroke-width="0.8"/>
<path d="M-25.97 9.08L-17.27 9.08" stroke="#2a2a2a" stroke-width="0.8"/>
<path d="M-26.96 4.65L-18.26 4.65" stroke="#2a2a2a" stroke-width="0.8"/>
<path d="M-27.3 0L-18.6 0" stroke="#2a2a2a" stroke-width="0.8"/>
<path d="M-26.96 -4.65L-18.26 -4.65" stroke="#2a2a2a" stroke-width="0.8"/>
<path d="M-25.97 -9.08L-17.27 -9.08" stroke="#2a2a2a" stroke-width="0.8"/>
<path d="M-24.37 -13.1L-15.67 -13.1" stroke="#2a2a2a" stroke-width="0.8"/>
<path d="M-22.23 -16.51L-13.53 -16.51" stroke="#2a2a2a" stroke-width="0.8"/>
<path d="M-19.66 -19.17L-10.96 -19.17" stroke="#2a2a2a" stroke-width="0.8"/>
<path d="M-16.76 -20.94L-8.06 -20.94" stroke="#2a2a2a" stroke-width="0.8"/>
<path d="M-11 -20.3 A14.6 21.8 0 0 0 -11 20.3" fill="none" stroke="#1c1c1c" stroke-width="0.7"/>
<ellipse cx="-3" cy="0" rx="19.2" ry="30" fill="#fff" stroke="#1c1c1c" stroke-width="1.5"/>
<ellipse cx="-1.4" cy="0" rx="19.2" ry="30" fill="#fff" stroke="#1c1c1c" stroke-width="0.9"/>
<ellipse cx="0" cy="0" rx="19.2" ry="30" fill="#fff" stroke="#1c1c1c" stroke-width="1.7"/>
<ellipse cx="0.8" cy="0" rx="17" ry="26.8" fill="#fff" stroke="#555" stroke-width="0.6"/>
<ellipse cx="1.4" cy="0" rx="14" ry="22.5" fill="#fff" stroke="#666" stroke-width="0.6"/>
<ellipse cx="1.8" cy="0" rx="11.6" ry="19" fill="#fff" stroke="#666" stroke-width="0.6"/>
<ellipse cx="-1" cy="0.5" rx="8.2" ry="12.4" fill="#fff" stroke="#1c1c1c" stroke-width="1.5"/>
<ellipse cx="-0.2" cy="0.5" rx="6.2" ry="9.4" fill="#fff" stroke="#444" stroke-width="0.7"/>
<path d="M-6.5 -4 C-8.5 0 -8 5 -5.5 7.6 M3.6 -7 C2 -3 2 3 3 7" fill="none" stroke="#444" stroke-width="0.7" stroke-linejoin="round" stroke-linecap="round"/>
</g>
<path d="M189.5 474.3 L222 492.9" fill="none" stroke="#555" stroke-width="0.7"/>
<path d="M185.3 505.5 L185.3 528.5" fill="none" stroke="#444" stroke-width="0.8"/>
<text x="186.3" y="541.5" font-size="13.4" text-anchor="middle">14</text>
<g transform="translate(249 507.5) rotate(28)">
<ellipse cx="0" cy="0" rx="6.6" ry="11.4" fill="#fff" stroke="#1c1c1c" stroke-width="1.1"/>
<ellipse cx="0.6" cy="0" rx="2.5" ry="4.3" fill="#fff" stroke="#1c1c1c" stroke-width="1.0"/>
<path d="M-2 0H3" stroke="#555" stroke-width="0.7"/>
</g>
<path d="M244.7 518 L244.7 542.5" fill="none" stroke="#444" stroke-width="0.8"/>
<text x="245" y="555.5" font-size="13.4" text-anchor="middle">13</text>
<g transform="translate(281 526) rotate(28)">
<rect x="-23" y="-3.3" width="15" height="6.6" rx="1.2" fill="#fff" stroke="#1c1c1c" stroke-width="1.0"/>
<path d="M-21.4 -3.3l1 6.6" stroke="#1c1c1c" stroke-width="0.6"/>
<path d="M-19.2 -3.3l1 6.6" stroke="#1c1c1c" stroke-width="0.6"/>
<path d="M-17 -3.3l1 6.6" stroke="#1c1c1c" stroke-width="0.6"/>
<path d="M-14.8 -3.3l1 6.6" stroke="#1c1c1c" stroke-width="0.6"/>
<path d="M-12.6 -3.3l1 6.6" stroke="#1c1c1c" stroke-width="0.6"/>
<path d="M-10.4 -3.3l1 6.6" stroke="#1c1c1c" stroke-width="0.6"/>
<ellipse cx="-8.6" cy="0" rx="5.21" ry="8.4" fill="#fff" stroke="#1c1c1c" stroke-width="1.1"/>
<rect x="-8.6" y="-8.4" width="2.2" height="16.8" fill="#fff"/>
<path d="M-8.6 -8.4H-6.4M-8.6 8.4H-6.4" stroke="#1c1c1c" stroke-width="1.1" fill="none"/>
<ellipse cx="-6.4" cy="0" rx="5.21" ry="8.4" fill="#fff" stroke="#1c1c1c" stroke-width="1.1"/>
<path d="M-5.6 -6.0 L0.4 -6.5 L4.2 -3 L4.2 3.4 L0.4 6.7 L-5.6 6.2 Z" fill="#fff" stroke="#1c1c1c" stroke-width="1.1" stroke-linejoin="round" stroke-linecap="round"/>
<path d="M0.4 -6.5 L-2.6 -3 L-2.6 3.4 L0.4 6.7 M-2.6 -3 L4.2 -3 M-2.6 3.4 L4.2 3.4" fill="none" stroke="#1c1c1c" stroke-width="0.7" stroke-linejoin="round" stroke-linecap="round"/>
</g>
<path d="M273.9 533 L273.9 556" fill="none" stroke="#444" stroke-width="0.8"/>
<text x="274" y="568.5" font-size="13.4" text-anchor="middle">12</text>
<path d="M139.5 520.5 L143 519.3 L150.5 523.5 L151.5 528.5 L149 532.5 L145.5 533.5 L142 539.5 L144 547.5 L142.5 553 L138 554.8 L131 551 L125 546.5 L122.8 540 L123.8 534.5 L127 531 L131 530 Z" fill="#fff" stroke="#7a7a7a" stroke-width="0.9" stroke-linejoin="round" stroke-linecap="round"/>
<path d="M139.5 520.5 L137 524 L131 530 M137 524 L144.5 528.5 L149 532.5 M144.5 528.5 L142 533.5 M139 526 l3 -3 M140.5 527.5 l3 -3.2 M146 529.5 a2 1.6 30 1 0 3.4 1.8 M127 531 L138 537 L142 539.5 M138 537 L137 544 L131 551 M134 534.5 l1 6 M136 535.6 l0.8 6.4 M133 534 l3.4 2 M135 546.5 l5.4 3 l-1 3.4 M137 545.5 l5 2.6" fill="none" stroke="#7a7a7a" stroke-width="0.7" stroke-linejoin="round" stroke-linecap="round"/>
<ellipse cx="128.6" cy="540" rx="3.2" ry="3.8" transform="rotate(20 128.6 540)" fill="#fff" stroke="#7a7a7a" stroke-width="0.9"/>
<ellipse cx="128.9" cy="540.2" rx="1.8" ry="2.3" transform="rotate(20 128.9 540.2)" fill="none" stroke="#666" stroke-width="1.1" stroke-dasharray="0.8 0.6"/>
<ellipse cx="135.8" cy="536.5" rx="1.4" ry="1.9" fill="#fff" stroke="#7a7a7a" stroke-width="0.8"/>
<g transform="translate(179 569.5) rotate(29)">
<rect x="-10.5" y="-1.8" width="7.5" height="3.6" rx="1" fill="#fff" stroke="#7a7a7a" stroke-width="0.81"/>
<path d="M-8.7 -1.8l0.8 3.6" stroke="#7a7a7a" stroke-width="0.5" fill="none"/>
<path d="M-6.7 -1.8l0.8 3.6" stroke="#7a7a7a" stroke-width="0.5" fill="none"/>
<path d="M-4.7 -1.8l0.8 3.6" stroke="#7a7a7a" stroke-width="0.5" fill="none"/>
<ellipse cx="-3.2" cy="0" rx="2.23" ry="3.6" fill="#fff" stroke="#7a7a7a" stroke-width="0.9"/>
<rect x="-3.2" y="-3.6" width="3.2" height="7.2" fill="#fff"/>
<path d="M-3.2 -3.6H0M-3.2 3.6H0" stroke="#7a7a7a" stroke-width="0.9" fill="none"/>
<ellipse cx="0" cy="0" rx="2.23" ry="3.6" fill="#fff" stroke="#7a7a7a" stroke-width="0.9"/>
</g>
<g transform="translate(447 443) rotate(29)">
<rect x="-12" y="-2.5" width="9" height="5" rx="1" fill="#fff" stroke="#1c1c1c" stroke-width="0.9"/>
<path d="M-10.2 -2.5l0.8 5" stroke="#1c1c1c" stroke-width="0.5" fill="none"/>
<path d="M-8.2 -2.5l0.8 5" stroke="#1c1c1c" stroke-width="0.5" fill="none"/>
<path d="M-6.2 -2.5l0.8 5" stroke="#1c1c1c" stroke-width="0.5" fill="none"/>
<ellipse cx="-3.2" cy="0" rx="3.1" ry="5" fill="#fff" stroke="#1c1c1c" stroke-width="1.0"/>
<rect x="-3.2" y="-5" width="3.2" height="10" fill="#fff"/>
<path d="M-3.2 -5H0M-3.2 5H0" stroke="#1c1c1c" stroke-width="1.0" fill="none"/>
<ellipse cx="0" cy="0" rx="3.1" ry="5" fill="#fff" stroke="#1c1c1c" stroke-width="1.0"/>
</g>
<path d="M441.4 414 L441.4 437" fill="none" stroke="#444" stroke-width="0.8"/>
<text x="441" y="406" font-size="13.4" text-anchor="middle">8</text>
<path d="M372 494 L393 494" fill="none" stroke="#444" stroke-width="0.8"/>
<rect x="398" y="485.7" width="10.6" height="16" fill="#fff" stroke="#f0922a" stroke-width="2"/>
<rect x="393.2" y="485.2" width="18.2" height="18.2" fill="none" stroke="#3c3c3c" stroke-width="0.9"/>
<text x="402.6" y="498.9" font-size="13" text-anchor="middle" font-family="'DejaVu Sans',sans-serif" fill="#111">1</text>
<text x="438.5" y="660.6" font-size="9.6" font-weight="bold" text-anchor="middle" font-family="'DejaVu Serif','Liberation Serif',serif" textLength="52" lengthAdjust="spacingAndGlyphs" fill="#000" stroke="#000" stroke-width="0.35">VOLVO</text>
<text x="438" y="668" font-size="5.4" font-weight="bold" text-anchor="middle" font-family="'DejaVu Sans Condensed','Liberation Sans',sans-serif" textLength="32" lengthAdjust="spacingAndGlyphs" fill="#111">GENUINE PARTS</text>
<text x="436.5" y="681.8" font-size="11.2" text-anchor="middle" font-family="'Liberation Sans',sans-serif" textLength="51.5" lengthAdjust="spacingAndGlyphs" fill="#222">GR-373333</text>
<path d="M291 510.5C291.52 506.5 293.48 502.92 296.5 497C299.52 491.08 304.32 483.75 309.1 475C313.88 466.25 319.83 454.62 325.2 444.5C330.57 434.38 336.27 423.35 341.3 414.3C346.33 405.25 351.37 396.4 355.4 390.2C359.43 384 362.15 380.45 365.5 377.1C368.85 373.75 372.15 371.72 375.5 370.1C378.85 368.48 382.23 367.7 385.6 367.4C388.97 367.1 392.35 367.4 395.7 368.3C399.05 369.2 402.88 370.67 405.7 372.8C408.52 374.93 411.08 378.2 412.6 381.1C414.12 384 414.63 387.02 414.8 390.2C414.97 393.38 414.78 395.85 413.6 400.2C412.42 404.55 410.35 409.92 407.7 416.3C405.05 422.68 401.38 430.78 397.7 438.5C394.02 446.22 389.3 455.23 385.6 462.6C381.9 469.97 377.9 477.55 375.5 482.7C373.1 487.85 370.85 487.23 371.2 493.5C371.55 499.77 375.37 510.8 377.6 520.3C379.83 529.8 382.6 542.45 384.6 550.5C386.6 558.55 388.7 563.9 389.6 568.6C390.5 573.3 390.5 575.35 390 578.7C389.5 582.05 388.33 585.85 386.6 588.7C384.87 591.55 382.12 594.28 379.6 595.8C377.08 597.32 375.53 597.95 371.5 597.8C367.47 597.65 361.43 596.05 355.4 594.9C349.37 593.75 340.67 592.38 335.3 590.9C329.93 589.42 326.55 587.87 323.2 586C319.85 584.13 317.03 581.93 315.2 579.7C313.37 577.47 312.53 575.12 312.2 572.6C311.87 570.08 311.7 568.28 313.2 564.6C314.7 560.92 317.85 556.2 321.2 550.5C324.55 544.8 329.27 536.77 333.3 530.4C337.33 524.03 342.28 516.67 345.4 512.3C348.52 507.93 352.68 504.48 352 504.2C351.32 503.92 345.77 507.75 341.3 510.6C336.83 513.45 330.22 518.13 325.2 521.3C320.18 524.47 315.22 528.38 311.2 529.6C307.18 530.82 304.07 530.03 301.1 528.6C298.13 527.17 295.08 524.02 293.4 521C291.72 517.98 290.48 514.5 291 510.5Z" fill="#fff" stroke="#1c1c1c" stroke-width="1.4" stroke-linejoin="round"/>
<clipPath id="beltclip"><path d="M291 510.5C291.52 506.5 293.48 502.92 296.5 497C299.52 491.08 304.32 483.75 309.1 475C313.88 466.25 319.83 454.62 325.2 444.5C330.57 434.38 336.27 423.35 341.3 414.3C346.33 405.25 351.37 396.4 355.4 390.2C359.43 384 362.15 380.45 365.5 377.1C368.85 373.75 372.15 371.72 375.5 370.1C378.85 368.48 382.23 367.7 385.6 367.4C388.97 367.1 392.35 367.4 395.7 368.3C399.05 369.2 402.88 370.67 405.7 372.8C408.52 374.93 411.08 378.2 412.6 381.1C414.12 384 414.63 387.02 414.8 390.2C414.97 393.38 414.78 395.85 413.6 400.2C412.42 404.55 410.35 409.92 407.7 416.3C405.05 422.68 401.38 430.78 397.7 438.5C394.02 446.22 389.3 455.23 385.6 462.6C381.9 469.97 377.9 477.55 375.5 482.7C373.1 487.85 370.85 487.23 371.2 493.5C371.55 499.77 375.37 510.8 377.6 520.3C379.83 529.8 382.6 542.45 384.6 550.5C386.6 558.55 388.7 563.9 389.6 568.6C390.5 573.3 390.5 575.35 390 578.7C389.5 582.05 388.33 585.85 386.6 588.7C384.87 591.55 382.12 594.28 379.6 595.8C377.08 597.32 375.53 597.95 371.5 597.8C367.47 597.65 361.43 596.05 355.4 594.9C349.37 593.75 340.67 592.38 335.3 590.9C329.93 589.42 326.55 587.87 323.2 586C319.85 584.13 317.03 581.93 315.2 579.7C313.37 577.47 312.53 575.12 312.2 572.6C311.87 570.08 311.7 568.28 313.2 564.6C314.7 560.92 317.85 556.2 321.2 550.5C324.55 544.8 329.27 536.77 333.3 530.4C337.33 524.03 342.28 516.67 345.4 512.3C348.52 507.93 352.68 504.48 352 504.2C351.32 503.92 345.77 507.75 341.3 510.6C336.83 513.45 330.22 518.13 325.2 521.3C320.18 524.47 315.22 528.38 311.2 529.6C307.18 530.82 304.07 530.03 301.1 528.6C298.13 527.17 295.08 524.02 293.4 521C291.72 517.98 290.48 514.5 291 510.5Z"/></clipPath>
<g clip-path="url(#beltclip)">
<path d="M399.5 370.5C400.67 371.5 404.87 374.25 406.5 376.5C408.13 378.75 408.83 381.42 409.3 384C409.77 386.58 409.52 389.33 409.3 392C409.08 394.67 409.12 396.27 408 400C406.88 403.73 405.17 408.33 402.6 414.4C400.03 420.47 396.28 428.7 392.6 436.4C388.92 444.1 384.37 453.05 380.5 460.6C376.63 468.15 372.08 476.13 369.4 481.7C366.72 487.27 364.97 490.45 364.4 494C363.83 497.55 364.9 499.12 366 503C367.1 506.88 369.25 510.97 371 517.3C372.75 523.63 374.75 533.72 376.5 541C378.25 548.28 380.37 555.5 381.5 561C382.63 566.5 383.13 570.5 383.3 574C383.47 577.5 383.22 579.5 382.5 582C381.78 584.5 380.75 586.95 379 589C377.25 591.05 373.17 593.42 372 594.3" fill="none" stroke="#2e2e2e" stroke-width="11.5" stroke-dasharray="0.78 1.5"/>
<path d="M304.5 525.5C305.75 524.67 309.42 522.17 312 520.5C314.58 518.83 315.67 518.18 320 515.5C324.33 512.82 333.42 507.05 338 504.4C342.58 501.75 344.33 500.47 347.5 499.6C350.67 498.73 355.42 499.27 357 499.2" fill="none" stroke="#2e2e2e" stroke-width="11" stroke-dasharray="0.78 1.5"/>
<path d="M320.5 582.6C321.58 583.17 324.58 585 327 586C329.42 587 330.33 587.5 335 588.6C339.67 589.7 349.33 591.6 355 592.6C360.67 593.6 366.67 594.27 369 594.6" fill="none" stroke="#2a2a2a" stroke-width="6" stroke-dasharray="0.9 1.1"/>
</g>
<path d="M310.5 499.5C313.88 492.58 319.75 480.55 325.6 468.7C331.45 456.85 339.58 439.82 345.6 428.4C351.62 416.98 357.35 407.2 361.7 400.2C366.05 393.2 368.38 389.88 371.7 386.4C375.02 382.92 378.28 381.15 381.6 379.3C384.92 377.45 388.5 376.13 391.6 375.3C394.7 374.47 398.22 372.83 400.2 374.3C402.18 375.77 403.12 380.45 403.5 384.1C403.88 387.75 403.5 391.5 402.5 396.2C401.5 400.9 400.02 405.93 397.5 412.3C394.98 418.67 391.1 426.68 387.4 434.4C383.7 442.12 379.32 450.88 375.3 458.6C371.28 466.32 366.25 475.22 363.3 480.7C360.35 486.18 358.55 488.72 357.6 491.5C356.65 494.28 358.47 496.88 357.6 497.4C356.73 497.92 354.43 495.17 352.4 494.6C350.37 494.03 348.25 493.43 345.4 494C342.55 494.57 340.33 495.33 335.3 498C330.27 500.67 320.32 506.4 315.2 510C310.08 513.6 306.58 518.55 304.6 519.6C302.62 520.65 303.18 517.87 303.3 516.3C303.42 514.73 304.1 513 305.3 510.2C306.5 507.4 307.12 506.42 310.5 499.5Z" fill="#fff" stroke="#1c1c1c" stroke-width="3.6" stroke-dasharray="1.5 1.7"/>
<path d="M310.5 499.5C313.88 492.58 319.75 480.55 325.6 468.7C331.45 456.85 339.58 439.82 345.6 428.4C351.62 416.98 357.35 407.2 361.7 400.2C366.05 393.2 368.38 389.88 371.7 386.4C375.02 382.92 378.28 381.15 381.6 379.3C384.92 377.45 388.5 376.13 391.6 375.3C394.7 374.47 398.22 372.83 400.2 374.3C402.18 375.77 403.12 380.45 403.5 384.1C403.88 387.75 403.5 391.5 402.5 396.2C401.5 400.9 400.02 405.93 397.5 412.3C394.98 418.67 391.1 426.68 387.4 434.4C383.7 442.12 379.32 450.88 375.3 458.6C371.28 466.32 366.25 475.22 363.3 480.7C360.35 486.18 358.55 488.72 357.6 491.5C356.65 494.28 358.47 496.88 357.6 497.4C356.73 497.92 354.43 495.17 352.4 494.6C350.37 494.03 348.25 493.43 345.4 494C342.55 494.57 340.33 495.33 335.3 498C330.27 500.67 320.32 506.4 315.2 510C310.08 513.6 306.58 518.55 304.6 519.6C302.62 520.65 303.18 517.87 303.3 516.3C303.42 514.73 304.1 513 305.3 510.2C306.5 507.4 307.12 506.42 310.5 499.5Z" fill="#fff" stroke="#1c1c1c" stroke-width="0.8"/>
<path d="M362.3 508.6C360.15 510.93 355.57 521.32 351.4 528.3C347.23 535.28 341.63 543.78 337.3 550.5C332.97 557.22 327.85 564.23 325.4 568.6C322.95 572.97 322.8 574.42 322.6 576.7C322.4 578.98 322.08 580.7 324.2 582.3C326.32 583.9 330.1 584.97 335.3 586.3C340.5 587.63 350.37 589.47 355.4 590.3C360.43 591.13 362.52 592.23 365.5 591.3C368.48 590.37 371.53 587.48 373.3 584.7C375.07 581.92 376.1 579.63 376.1 574.6C376.1 569.57 374.6 561.53 373.3 554.5C372 547.47 369.8 539.1 368.3 532.4C366.8 525.7 365.3 518.27 364.3 514.3C363.3 510.33 364.45 506.27 362.3 508.6Z" fill="#fff" stroke="#1c1c1c" stroke-width="3.6" stroke-dasharray="1.5 1.7"/>
<path d="M362.3 508.6C360.15 510.93 355.57 521.32 351.4 528.3C347.23 535.28 341.63 543.78 337.3 550.5C332.97 557.22 327.85 564.23 325.4 568.6C322.95 572.97 322.8 574.42 322.6 576.7C322.4 578.98 322.08 580.7 324.2 582.3C326.32 583.9 330.1 584.97 335.3 586.3C340.5 587.63 350.37 589.47 355.4 590.3C360.43 591.13 362.52 592.23 365.5 591.3C368.48 590.37 371.53 587.48 373.3 584.7C375.07 581.92 376.1 579.63 376.1 574.6C376.1 569.57 374.6 561.53 373.3 554.5C372 547.47 369.8 539.1 368.3 532.4C366.8 525.7 365.3 518.27 364.3 514.3C363.3 510.33 364.45 506.27 362.3 508.6Z" fill="#fff" stroke="#1c1c1c" stroke-width="0.8"/>
<path d="M291 510.5C291.52 506.5 293.48 502.92 296.5 497C299.52 491.08 304.32 483.75 309.1 475C313.88 466.25 319.83 454.62 325.2 444.5C330.57 434.38 336.27 423.35 341.3 414.3C346.33 405.25 351.37 396.4 355.4 390.2C359.43 384 362.15 380.45 365.5 377.1C368.85 373.75 372.15 371.72 375.5 370.1C378.85 368.48 382.23 367.7 385.6 367.4C388.97 367.1 392.35 367.4 395.7 368.3C399.05 369.2 402.88 370.67 405.7 372.8C408.52 374.93 411.08 378.2 412.6 381.1C414.12 384 414.63 387.02 414.8 390.2C414.97 393.38 414.78 395.85 413.6 400.2C412.42 404.55 410.35 409.92 407.7 416.3C405.05 422.68 401.38 430.78 397.7 438.5C394.02 446.22 389.3 455.23 385.6 462.6C381.9 469.97 377.9 477.55 375.5 482.7C373.1 487.85 370.85 487.23 371.2 493.5C371.55 499.77 375.37 510.8 377.6 520.3C379.83 529.8 382.6 542.45 384.6 550.5C386.6 558.55 388.7 563.9 389.6 568.6C390.5 573.3 390.5 575.35 390 578.7C389.5 582.05 388.33 585.85 386.6 588.7C384.87 591.55 382.12 594.28 379.6 595.8C377.08 597.32 375.53 597.95 371.5 597.8C367.47 597.65 361.43 596.05 355.4 594.9C349.37 593.75 340.67 592.38 335.3 590.9C329.93 589.42 326.55 587.87 323.2 586C319.85 584.13 317.03 581.93 315.2 579.7C313.37 577.47 312.53 575.12 312.2 572.6C311.87 570.08 311.7 568.28 313.2 564.6C314.7 560.92 317.85 556.2 321.2 550.5C324.55 544.8 329.27 536.77 333.3 530.4C337.33 524.03 342.28 516.67 345.4 512.3C348.52 507.93 352.68 504.48 352 504.2C351.32 503.92 345.77 507.75 341.3 510.6C336.83 513.45 330.22 518.13 325.2 521.3C320.18 524.47 315.22 528.38 311.2 529.6C307.18 530.82 304.07 530.03 301.1 528.6C298.13 527.17 295.08 524.02 293.4 521C291.72 517.98 290.48 514.5 291 510.5Z" fill="none" stroke="#1c1c1c" stroke-width="1.4" stroke-linejoin="round"/>
<path d="M399.8 368.6 L400.6 374.2" fill="none" stroke="#1c1c1c" stroke-width="0.9" stroke-linejoin="round" stroke-linecap="round"/>
<path d="M357.8 497.6 C361 500 364 502 366.4 504.4" fill="none" stroke="#1c1c1c" stroke-width="0.9" stroke-linejoin="round" stroke-linecap="round"/>
<path d="M333 378.64 L441 439.6" fill="none" stroke="#555" stroke-width="0.7"/>
<path d="M380 121.44C380.24 121.1 391.14 104.36 392.21 102.18C393.29 100.01 391.36 98.8 391.49 98.16C391.63 97.52 393.05 95.76 393.65 95.29C394.25 94.82 397.42 93.8 397.96 93.13C398.5 92.46 398.99 89.18 399.4 88.1C399.8 87.03 401.73 82.55 402.27 81.64C402.81 80.73 404.34 79.07 405.14 78.33C405.95 77.6 409.62 74.94 410.89 73.74C412.16 72.53 417.25 66.66 418.79 65.4C420.34 64.14 425.8 60.93 427.41 60.23C429.02 59.53 434.69 58.17 436.03 57.93C437.38 57.69 441.04 57.78 441.78 57.64C442.52 57.51 443.13 56.74 443.94 56.49C444.74 56.25 449.53 54.99 450.4 55.06C451.27 55.12 452.61 56.54 453.28 57.21C453.95 57.88 456.78 61.37 457.59 62.24C458.39 63.11 461.29 65.68 461.9 66.55C462.5 67.42 463.78 70.71 464.05 71.58C464.32 72.45 464.57 75.15 464.77 75.89C464.97 76.63 465.91 78.81 466.21 79.48C466.5 80.15 467.8 82.4 467.93 83.07C468.07 83.75 467.91 86.17 467.64 86.67C467.38 87.16 465.38 87.85 465.06 88.39C464.74 88.93 464.25 91.1 464.2 92.41C464.14 93.73 464.43 100.86 464.48 102.47C464.54 104.08 464.61 108.58 464.77 109.66C464.93 110.73 466.21 113.23 466.21 113.97C466.21 114.7 465.31 117.02 464.77 117.56C464.23 118.09 461.4 119.38 460.46 119.71C459.52 120.05 455.65 120.79 454.71 121.15C453.77 121.51 451.34 122.92 450.4 123.59C449.46 124.26 445.86 127.46 444.66 128.33C443.45 129.2 438.95 131.97 437.47 132.93C436 133.9 430.33 137.63 428.85 138.68C427.38 139.72 423.45 143.12 421.67 144.14C419.88 145.15 411.77 148.53 409.71 149.57C407.66 150.61 400.86 154.31 399.66 155.32C398.45 156.32 397.18 159.2 396.78 160.34C396.38 161.48 395.55 166.32 395.34 167.53C395.14 168.74 395.1 172.51 394.63 173.28C394.16 174.04 391.46 174.89 390.32 175.72C389.18 176.55 383.55 181.45 382.41 182.18C381.27 182.92 379.31 183.75 378.1 183.62C376.9 183.49 371.02 181.3 369.48 180.75C367.94 180.2 362.79 177.94 361.58 177.73C360.37 177.52 357.56 178.64 356.55 178.45C355.55 178.26 351.88 176.25 350.8 175.72C349.73 175.18 345.86 173.39 345.06 172.7C344.25 172.02 342.52 169.28 342.18 168.39C341.85 167.51 341.26 164.17 341.47 163.22C341.67 162.27 343.6 158.91 344.34 158.19C345.08 157.47 348.23 155.85 349.37 155.46C350.51 155.07 356.22 154.3 356.55 154.02C356.89 153.74 353.36 152.86 352.96 152.44C352.56 152.03 352.11 149.97 352.24 149.57C352.38 149.17 353.66 148.79 354.4 148.13C355.13 147.48 359.67 143.39 360.14 142.53C360.61 141.67 359.22 139.35 359.43 138.94C359.63 138.52 361.7 138.54 362.3 138.07C362.9 137.61 365.02 134.57 365.89 133.91C366.76 133.25 370.63 132.11 371.64 131.03C372.64 129.96 374.99 124.77 376.67 122.41C378.34 120.05 389.29 105.84 389.6 105.75C389.91 105.66 379.76 121.77 380 121.44Z" fill="#fff" stroke="none"/>
<path d="M467.93 83.07C468.07 83.75 467.91 86.17 467.64 86.67C467.38 87.16 465.38 87.85 465.06 88.39C464.74 88.93 464.25 91.1 464.2 92.41C464.14 93.73 464.43 100.86 464.48 102.47C464.54 104.08 464.61 108.58 464.77 109.66C464.93 110.73 466.21 113.23 466.21 113.97C466.21 114.7 465.31 117.02 464.77 117.56C464.23 118.09 461.4 119.38 460.46 119.71C459.52 120.05 455.65 120.79 454.71 121.15C453.77 121.51 451.34 122.92 450.4 123.59C449.46 124.26 445.86 127.46 444.66 128.33C443.45 129.2 438.95 131.97 437.47 132.93C436 133.9 430.33 137.63 428.85 138.68C427.38 139.72 423.45 143.12 421.67 144.14C419.88 145.15 411.77 148.53 409.71 149.57C407.66 150.61 400.86 154.31 399.66 155.32C398.45 156.32 397.18 159.2 396.78 160.34C396.38 161.48 395.55 166.32 395.34 167.53C395.14 168.74 395.1 172.51 394.63 173.28C394.16 174.04 391.46 174.89 390.32 175.72C389.18 176.55 383.55 181.45 382.41 182.18C381.27 182.92 379.31 183.75 378.1 183.62C376.9 183.49 371.02 181.3 369.48 180.75C367.94 180.2 362.79 177.94 361.58 177.73C360.37 177.52 357.56 178.64 356.55 178.45C355.55 178.26 351.88 176.25 350.8 175.72C349.73 175.18 345.86 173.39 345.06 172.7C344.25 172.02 342.52 169.28 342.18 168.39C341.85 167.51 341.26 164.17 341.47 163.22C341.67 162.27 343.6 158.91 344.34 158.19C345.08 157.47 348.23 155.85 349.37 155.46C350.51 155.07 356.22 154.3 356.55 154.02C356.89 153.74 353.36 152.86 352.96 152.44C352.56 152.03 352.11 149.97 352.24 149.57C352.38 149.17 353.66 148.79 354.4 148.13C355.13 147.48 359.67 143.39 360.14 142.53C360.61 141.67 359.22 139.35 359.43 138.94C359.63 138.52 361.7 138.54 362.3 138.07C362.9 137.61 365.02 134.57 365.89 133.91C366.76 133.25 370.63 132.11 371.64 131.03C372.64 129.96 374.99 124.77 376.67 122.41C378.34 120.05 389.29 105.84 389.6 105.75C389.91 105.66 379.76 121.77 380 121.44C380.24 121.1 391.14 104.36 392.21 102.18C393.29 100.01 391.36 98.8 391.49 98.16C391.63 97.52 393.05 95.76 393.65 95.29C394.25 94.82 397.42 93.8 397.96 93.13C398.5 92.46 398.99 89.18 399.4 88.1C399.8 87.03 401.73 82.55 402.27 81.64C402.81 80.73 404.34 79.07 405.14 78.33C405.95 77.6 409.62 74.94 410.89 73.74C412.16 72.53 417.25 66.66 418.79 65.4C420.34 64.14 425.8 60.93 427.41 60.23C429.02 59.53 434.69 58.17 436.03 57.93C437.38 57.69 441.04 57.78 441.78 57.64C442.52 57.51 443.13 56.74 443.94 56.49" fill="none" stroke="#1c1c1c" stroke-width="1.4" stroke-linejoin="round" stroke-linecap="round"/>
<path d="M443.94 56.49C444.74 56.25 449.53 54.99 450.4 55.06C451.27 55.12 452.61 56.54 453.28 57.21C453.95 57.88 456.78 61.37 457.59 62.24C458.39 63.11 461.29 65.68 461.9 66.55C462.5 67.42 463.78 70.71 464.05 71.58C464.32 72.45 464.57 75.15 464.77 75.89C464.97 76.63 465.91 78.81 466.21 79.48C466.5 80.15 467.8 82.4 467.93 83.07" fill="none" stroke="#555" stroke-width="0.7"/>
<path d="M413.33 88.1C414.31 87.39 421.26 82.28 423.1 80.92C424.94 79.55 430.69 75.89 431.72 74.45C432.76 73.02 432.3 67.77 433.45 66.55C434.6 65.33 441.67 62.96 443.22 62.24C444.77 61.52 447.82 59.22 448.97 59.37C450.11 59.51 453.74 62.74 454.71 63.68C455.69 64.61 458.16 67.7 458.74 68.71C459.31 69.71 460.2 72.51 460.46 73.74C460.72 74.96 461.15 79.05 461.32 80.92C461.49 82.79 462.1 90.26 462.18 92.41C462.27 94.57 462.16 100.75 462.18 102.47C462.21 104.2 462.82 108.65 462.47 109.66C462.13 110.66 459.66 112.1 458.74 112.53C457.82 112.96 454.14 113.46 453.28 113.97C452.41 114.47 450.69 116.62 450.11 117.56C449.54 118.49 448.51 122.23 447.53 123.3C446.55 124.38 441.93 127.26 440.34 128.33C438.76 129.41 432.59 133.51 431.72 134.08" fill="none" stroke="#1c1c1c" stroke-width="0.7"/>
<path d="M412.59 144.54C411.75 145.04 403.85 149.68 402.53 150.57C401.21 151.47 397.48 154.38 396.78 155.32C396.09 156.25 394.49 160.64 394.2 161.78C393.9 162.92 393.51 168.13 393.19 168.97C392.87 169.8 390.97 171.48 390.32 171.84C389.66 172.2 387.5 173.81 385.29 173.28C383.07 172.74 365.77 165.85 363.74 165.37C361.7 164.89 361.16 166.99 360.86 167.53C360.56 168.07 358.47 170.86 360.14 171.84C361.82 172.82 379.24 178.69 380.98 179.31" fill="none" stroke="#1c1c1c" stroke-width="0.7"/>
<path d="M374.94 131.9 L378.1 127.3 L396.78 102.59" fill="none" stroke="#1c1c1c" stroke-width="0.7" stroke-linejoin="round" stroke-linecap="round"/>
<path d="M381.26 132.47 L386.72 122.99 L402.53 103.59" fill="none" stroke="#1c1c1c" stroke-width="0.7" stroke-linejoin="round" stroke-linecap="round"/>
<path d="M376.95 125.57 L393.19 104.6" stroke="#333" stroke-width="2.2" stroke-dasharray="0.5 0.9" fill="none"/>
<path d="M401.55 83.79C402.13 83.43 405.86 81.14 407.3 80.2C408.74 79.27 414.2 75.53 415.92 74.45C417.64 73.38 423.25 70 424.54 69.43C425.83 68.85 428.25 68.56 428.85 68.71C429.45 68.85 430.57 70.36 430.57 70.86C430.57 71.36 429.89 72.95 428.85 73.74C427.82 74.53 422.03 77.76 420.23 78.76C418.43 79.77 412.33 82.97 410.89 83.79C409.45 84.61 406.36 86.64 405.86 86.95" fill="none" stroke="#1c1c1c" stroke-width="0.8" stroke-linejoin="round" stroke-linecap="round"/>
<path d="M402.99 86.67C403.99 85.95 411.03 80.85 413.05 79.48C415.06 78.12 421.59 73.85 423.1 73.02C424.61 72.18 427.63 71.34 428.13 71.15" fill="none" stroke="#444" stroke-width="0.6" stroke-linejoin="round" stroke-linecap="round"/>
<path d="M430.57 70.86 L432.01 60.8 L433.45 59.37 L441.78 58.22" fill="none" stroke="#1c1c1c" stroke-width="0.8" stroke-linejoin="round" stroke-linecap="round"/>
<path d="M433.45 59.37 L434.02 70.14 L432.01 73.74" fill="none" stroke="#1c1c1c" stroke-width="0.7" stroke-linejoin="round" stroke-linecap="round"/>
<path d="M435.32 61.52 L442.07 60.52 L442.36 65.11 L435.75 67.7Z" fill="#fff" stroke="#1c1c1c" stroke-width="0.9" stroke-linejoin="round" stroke-linecap="round"/>
<path d="M436.61 62.96 L440.92 62.24 L441.06 64.83 L436.9 66.26Z" fill="none" stroke="#1c1c1c" stroke-width="0.6" stroke-linejoin="round" stroke-linecap="round"/>
<path d="M416.64 98.88 L450.69 78.76 L451.26 106.06 L447.53 109.94 L417.64 126.32Z" fill="#fff" stroke="#1c1c1c" stroke-width="0.9" stroke-linejoin="round" stroke-linecap="round"/>
<path d="M419.66 100.17 L447.24 83.79 L447.53 108.22 L420.52 123.74Z" fill="none" stroke="#1c1c1c" stroke-width="0.7" stroke-linejoin="round" stroke-linecap="round"/>
<path d="M421.95 101.32 L444.37 88.1 L444.66 107.64 L422.82 120.86Z" fill="none" stroke="#1c1c1c" stroke-width="0.9" stroke-linejoin="round" stroke-linecap="round"/>
<path d="M447.24 83.79 L450.69 78.76 M447.53 108.22 L447.53 109.94" fill="none" stroke="#1c1c1c" stroke-width="0.6" stroke-linejoin="round" stroke-linecap="round"/>
<g transform="translate(401 138.5) rotate(27)">
<ellipse cx="0" cy="0" rx="5" ry="8.2" fill="#fff" stroke="#1c1c1c" stroke-width="1.0"/>
<path d="M-3.2 -6 A4.2 7.4 0 0 0 -3.6 5.4" fill="none" stroke="#444" stroke-width="0.6" stroke-linejoin="round" stroke-linecap="round"/>
</g>
<circle cx="408.74" cy="93.13" r="2.6" fill="#fff" stroke="#1c1c1c" stroke-width="0.9"/>
<circle cx="409.04" cy="93.33" r="1.3" fill="none" stroke="#1c1c1c" stroke-width="0.6"/>
<circle cx="398.68" cy="101.03" r="3.2" fill="#fff" stroke="#1c1c1c" stroke-width="0.9"/>
<circle cx="398.98" cy="101.23" r="1.6" fill="none" stroke="#1c1c1c" stroke-width="0.6"/>
<circle cx="466.21" cy="85.23" r="2.4" fill="#fff" stroke="#1c1c1c" stroke-width="0.9"/>
<circle cx="466.51" cy="85.43" r="1.2" fill="none" stroke="#1c1c1c" stroke-width="0.6"/>
<path d="M392.21 102.18C392.5 102.57 394.15 105.75 395.09 106.06C396.02 106.38 400.19 105.92 401.55 105.34C402.92 104.77 407.66 101.39 408.74 100.32C409.81 99.24 412.01 95.79 412.33 94.57C412.64 93.35 411.94 88.75 411.9 88.1" fill="none" stroke="#1c1c1c" stroke-width="0.8" stroke-linejoin="round" stroke-linecap="round"/>
<path d="M454.71 70.14 L458.3 70.86 L461.9 75.89 L464.05 80.92" fill="none" stroke="#1c1c1c" stroke-width="0.6" stroke-linejoin="round" stroke-linecap="round"/>
<circle cx="372.64" cy="138.51" r="2.6" fill="#fff" stroke="#1c1c1c" stroke-width="0.9"/>
<circle cx="372.94" cy="138.71" r="1.3" fill="none" stroke="#1c1c1c" stroke-width="0.6"/>
<circle cx="355.11" cy="168.97" r="2.8" fill="#fff" stroke="#1c1c1c" stroke-width="0.9"/>
<circle cx="355.41" cy="169.17" r="1.4" fill="none" stroke="#1c1c1c" stroke-width="0.6"/>
<path d="M356.55 154.02C356.12 154.37 353.03 156.55 352.24 157.47C351.45 158.39 348.94 162.07 348.65 163.22C348.36 164.37 348.86 168.03 349.37 168.97C349.87 169.9 353.25 172.2 353.68 172.56" fill="none" stroke="#1c1c1c" stroke-width="0.8" stroke-linejoin="round" stroke-linecap="round"/>
<path d="M356.55 154.02 L364.45 160.34 L365.89 163.22 L362.3 165.37" fill="none" stroke="#1c1c1c" stroke-width="0.8" stroke-linejoin="round" stroke-linecap="round"/>
<path d="M360.14 142.53 L370.2 145.98 L364.45 160.34 M370.2 145.98 L373.79 143.1 L381.26 132.47" fill="none" stroke="#1c1c1c" stroke-width="0.7" stroke-linejoin="round" stroke-linecap="round"/>
<path d="M354.4 148.13 L361.58 153.45 L365.89 163.22" fill="none" stroke="#1c1c1c" stroke-width="0.7" stroke-linejoin="round" stroke-linecap="round"/>
<path d="M362.3 138.07 L369.2 141.67 M365.89 133.91 L372.07 135.92" fill="none" stroke="#1c1c1c" stroke-width="0.6" stroke-linejoin="round" stroke-linecap="round"/>
<path d="M451.26 116.84C451.47 116.41 452.64 113.18 453.28 112.53C453.91 111.88 456.65 110.52 457.59 110.37C458.52 110.23 461.9 110.8 462.61 111.09C463.33 111.38 464.55 113.03 464.77 113.25" fill="none" stroke="#1c1c1c" stroke-width="0.8" stroke-linejoin="round" stroke-linecap="round"/>
<path d="M356 122.6 L377.5 122.6" fill="none" stroke="#444" stroke-width="0.8"/>
<text x="346" y="127.5" font-size="13.4" text-anchor="middle">11</text>
<path d="M309.34 273.33C309.03 272.16 307.8 257.99 307.9 256.09C308.01 254.2 310.41 248.63 310.78 247.47C311.14 246.31 312.61 241.45 312.93 240.29C313.25 239.13 314.82 232.83 315.09 231.67C315.35 230.51 316.15 225.27 316.52 224.48C316.89 223.69 319.48 221.15 320.11 220.89C320.75 220.63 324.46 221.36 325.14 220.89C325.83 220.42 328.72 214.79 329.45 214.43C330.19 214.06 334.83 216.49 335.2 215.86C335.57 215.23 334.32 206.91 334.48 205.8C334.64 204.7 336.83 201.22 337.36 200.78C337.88 200.33 340.61 199.56 341.67 199.77C342.72 199.98 348.98 202.55 351.72 203.65C354.46 204.75 377.13 213.45 379.02 214.71C380.92 215.98 377.82 219.94 377.59 220.89C377.35 221.84 375.81 227.01 375.86 227.64C375.91 228.28 377.86 229.59 378.3 229.51C378.75 229.44 381.11 227.53 381.9 226.64C382.69 225.74 387.71 218.62 389.08 217.3C390.45 215.98 398.99 209.84 400.57 208.68C402.16 207.52 409.58 202.23 410.63 201.49C411.69 200.76 414.47 199.23 414.94 198.62C415.42 198.01 416.57 193.58 417.1 193.16C417.62 192.74 421.23 192.58 422.13 192.87C423.02 193.17 428.2 196.74 429.31 197.18C430.42 197.63 436.58 198.54 437.21 198.91C437.84 199.28 438.14 201.76 437.93 202.21C437.72 202.67 434.81 204.4 434.34 205.09C433.86 205.77 431.78 210.34 431.47 211.55C431.15 212.76 430.29 220.34 430.03 221.61C429.77 222.87 428.45 227.95 427.87 228.79C427.29 229.64 422.86 232.58 422.13 233.1C421.39 233.63 418.34 235.24 417.82 235.98C417.29 236.71 415 242.11 414.94 243.16C414.89 244.21 416.68 249.5 417.1 250.34C417.52 251.19 420.22 253.81 420.69 254.66C421.16 255.5 423.14 260.47 423.56 261.84C423.98 263.21 426.02 271.86 426.44 273.33C426.86 274.81 429.1 280.93 429.31 281.95C429.52 282.97 429.05 287.06 429.25 287.24C429.46 287.42 431.6 284.16 432.13 284.37C432.65 284.58 435.86 289.64 436.44 290.11C437.02 290.59 439.5 290.46 440.03 290.83C440.56 291.2 443.41 294.56 443.62 295.14C443.83 295.72 443.27 298.31 442.9 298.74C442.53 299.16 439.01 300.47 438.59 300.89C438.17 301.31 437.52 303.59 437.16 304.48C436.79 305.38 434.04 311.84 433.56 313.1C433.09 314.37 431.01 320.67 430.69 321.72C430.37 322.78 429.78 326.73 429.25 327.47C428.73 328.21 424.45 331.04 423.51 331.78C422.56 332.52 417.48 336.69 416.32 337.53C415.16 338.37 408.75 342.64 407.7 343.28C406.65 343.91 402.69 345.62 401.95 346.15C401.22 346.68 398.17 349.72 397.64 350.46C397.12 351.2 395.3 355.68 394.77 356.21C394.24 356.73 391.14 357.75 390.46 357.64C389.77 357.54 385.85 355.24 385.43 354.77C385.01 354.3 384.5 351.7 384.71 351.18C384.92 350.65 388.2 348.27 388.3 347.59C388.41 346.9 386.62 342.47 386.15 341.84C385.68 341.21 382.47 339.07 381.84 338.97C381.21 338.86 378.16 339.77 377.53 340.4C376.9 341.03 373.9 346.59 373.22 347.59C372.53 348.59 368.87 353.52 368.19 354.05C367.5 354.58 364.46 355.03 363.88 354.77C363.3 354.51 360.87 351.41 360.29 350.46C359.71 349.51 356.45 342.79 355.98 341.84C355.5 340.89 354.35 338.16 353.82 337.53C353.3 336.9 349.64 333.75 348.79 333.22C347.95 332.69 343.38 330.66 342.33 330.34C341.27 330.03 335.43 329.17 334.43 328.91C333.42 328.64 329.2 327.23 328.68 326.75C328.15 326.28 327.08 323.07 327.24 322.44C327.4 321.81 330.52 318.92 330.83 318.13C331.15 317.34 331.66 312.67 331.55 311.67C331.45 310.67 329.61 305.43 329.4 304.48C329.19 303.53 328.84 300.11 328.68 298.74C328.52 297.37 327.4 287.28 327.24 285.8C327.08 284.33 327.16 279.36 326.52 278.62C325.89 277.88 319.67 276.22 318.62 275.75C317.57 275.27 312.84 272.33 312.16 272.16C311.47 271.98 309.65 274.51 309.34 273.33Z" fill="#fff" stroke="#1c1c1c" stroke-width="1.4" stroke-linejoin="round"/>
<path d="M343.1 201.49 L338.79 213.71 L335.92 216.15" fill="none" stroke="#1c1c1c" stroke-width="0.7" stroke-linejoin="round" stroke-linecap="round"/>
<path d="M353.45 204.37 L348.85 214.14 L347.41 217.3" fill="none" stroke="#1c1c1c" stroke-width="0.7" stroke-linejoin="round" stroke-linecap="round"/>
<path d="M348.85 214.14 L375 225.2 L377.59 220.89" fill="none" stroke="#1c1c1c" stroke-width="0.7" stroke-linejoin="round" stroke-linecap="round"/>
<path d="M347.41 217.3 L374.71 227.64" fill="none" stroke="#1c1c1c" stroke-width="0.7" stroke-linejoin="round" stroke-linecap="round"/>
<path d="M347.41 217.3C346.77 218.23 342.03 224.55 340.95 226.64C339.87 228.72 337.21 235.76 336.64 238.13C336.06 240.5 335.27 247.97 335.2 250.34C335.13 252.72 335.42 260.11 335.92 261.84C336.42 263.56 339.08 266.82 340.23 267.59C341.38 268.35 345.69 269.71 347.41 269.45C349.14 269.2 355.49 266.08 357.47 265C359.45 263.92 366.26 259.31 367.24 258.68" fill="none" stroke="#1c1c1c" stroke-width="0.8" stroke-linejoin="round" stroke-linecap="round"/>
<path d="M330.89 267.59C331.68 267.87 337.07 270.29 338.79 270.46C340.52 270.63 347.2 269.43 348.13 269.31" fill="none" stroke="#1c1c1c" stroke-width="1.3" stroke-linejoin="round" stroke-linecap="round"/>
<path d="M335.92 216.15C335.42 217.27 331.61 225.23 330.89 227.36C330.17 229.48 328.88 235.47 328.74 237.41C328.59 239.35 329.38 245.82 329.45 246.75" fill="none" stroke="#1c1c1c" stroke-width="0.6" stroke-linejoin="round" stroke-linecap="round"/>
<path d="M313.51 238.56 L314.37 239.57 L332.33 247.47 L334.48 247.47 L333.33 255.37 L328.74 263.56 L310.34 255.66" fill="none" stroke="#1c1c1c" stroke-width="0.9" stroke-linejoin="round" stroke-linecap="round"/>
<path d="M314.37 239.57 L311.78 254.94 M332.33 247.47 L328.74 263.56 M333.33 255.37 L330.89 254.66" fill="none" stroke="#1c1c1c" stroke-width="0.7" stroke-linejoin="round" stroke-linecap="round"/>
<path d="M316.52 224.48 L319.4 227.64 L324.43 225.92 L329.45 227.07 L335.2 215.86" fill="none" stroke="#1c1c1c" stroke-width="0.6" stroke-linejoin="round" stroke-linecap="round"/>
<g transform="translate(313.22 248.91) rotate(15)">
<ellipse cx="0" cy="0" rx="1.4" ry="3.2" fill="#fff" stroke="#1c1c1c" stroke-width="0.7"/>
</g>
<g transform="translate(322.41 254.37) rotate(15)">
<ellipse cx="0" cy="0" rx="0.9" ry="1.4" fill="#fff" stroke="#1c1c1c" stroke-width="0.6"/>
</g>
<path d="M310.06 258.97 L311.49 270.46 L318.68 276.21 L326.58 277.64 L326.58 290" fill="none" stroke="#1c1c1c" stroke-width="0.8" stroke-linejoin="round" stroke-linecap="round"/>
<path d="M318.68 261.84 L319.4 271.18 L323.71 276.21 L334.48 281.95 L335.2 290" fill="none" stroke="#1c1c1c" stroke-width="0.6" stroke-linejoin="round" stroke-linecap="round"/>
<g transform="translate(353.88 247.47) rotate(22)">
<ellipse cx="0" cy="0" rx="8" ry="12.2" fill="#fff" stroke="#1c1c1c" stroke-width="0.7"/>
<ellipse cx="0.3" cy="0.3" rx="5" ry="8.2" fill="#fff" stroke="#1c1c1c" stroke-width="1.0"/>
<ellipse cx="0.6" cy="0.6" rx="3.2" ry="5.8" fill="#fff" stroke="#1c1c1c" stroke-width="0.8"/>
</g>
<g transform="translate(386.21 251.06) rotate(24)">
<ellipse cx="0" cy="0" rx="10.6" ry="15.5" fill="#fff" stroke="#1c1c1c" stroke-width="0.7"/>
</g>
<path d="M394.11 257.53C393.82 256.67 392.72 252.12 391.95 251.06C391.19 250.01 389.13 249.34 388.36 249.63C387.6 249.91 386.3 252.16 386.21 253.22C386.11 254.27 386.97 256.76 387.64 257.53C388.31 258.3 390.76 258.77 391.24 258.97" fill="none" stroke="#1c1c1c" stroke-width="0.7" stroke-linejoin="round" stroke-linecap="round"/>
<g transform="translate(390.23 266.15) rotate(24)">
<ellipse cx="0" cy="0" rx="4.6" ry="7.2" fill="#fff" stroke="#1c1c1c" stroke-width="0.8"/>
<ellipse cx="0.2" cy="0.2" rx="3" ry="5" fill="#fff" stroke="#1c1c1c" stroke-width="0.6"/>
</g>
<g transform="translate(420.4 223.76) rotate(18)">
<ellipse cx="0" cy="0" rx="7.4" ry="11.5" fill="#fff" stroke="#1c1c1c" stroke-width="0.8"/>
</g>
<circle cx="425.29" cy="227.64" r="2.6" fill="#fff" stroke="#1c1c1c" stroke-width="0.7"/>
<path d="M391.95 220.89C393.1 219.96 401.29 213.09 403.45 211.55C405.6 210.01 410.92 206.47 413.51 205.52C416.09 204.57 427.16 202.39 429.31 202.07C431.47 201.75 434.48 202.33 435.06 202.36" fill="none" stroke="#1c1c1c" stroke-width="0.7" stroke-linejoin="round" stroke-linecap="round"/>
<path d="M417.1 193.16C417.6 193.56 420.91 196.49 422.13 197.18C423.35 197.87 427.8 199.89 429.31 200.06C430.82 200.23 436.42 199.02 437.21 198.91" fill="none" stroke="#1c1c1c" stroke-width="0.7" stroke-linejoin="round" stroke-linecap="round"/>
<path d="M378.3 229.51C379.09 229.32 384.55 228.29 386.21 227.64C387.86 227 393.1 224.22 394.83 223.05C396.55 221.87 402.59 216.58 403.45 215.86" fill="none" stroke="#1c1c1c" stroke-width="0.6" stroke-linejoin="round" stroke-linecap="round"/>
<path d="M351.38 284.37 L367.47 276.47 L373.94 277.9" fill="none" stroke="#1c1c1c" stroke-width="0.9" stroke-linejoin="round" stroke-linecap="round"/>
<path d="M351.38 284.37 L373.22 278.62 L357.41 284.37" fill="none" stroke="#1c1c1c" stroke-width="0.9" stroke-linejoin="round" stroke-linecap="round"/>
<path d="M351.38 284.37 L346.64 275.75 L353.1 271.44" fill="none" stroke="#1c1c1c" stroke-width="0.9" stroke-linejoin="round" stroke-linecap="round"/>
<path d="M351.38 284.37 L357.41 272.87 L361.72 270" fill="none" stroke="#1c1c1c" stroke-width="0.9" stroke-linejoin="round" stroke-linecap="round"/>
<path d="M351.38 284.37 L353.1 294.43 L355.98 303.76" fill="none" stroke="#1c1c1c" stroke-width="0.9" stroke-linejoin="round" stroke-linecap="round"/>
<path d="M353.1 282.93 L370.34 270" fill="none" stroke="#1c1c1c" stroke-width="1.4" stroke-linejoin="round" stroke-linecap="round"/>
<path d="M354.54 284.94 L373.22 278.91" fill="none" stroke="#1c1c1c" stroke-width="1.2" stroke-linejoin="round" stroke-linecap="round"/>
<circle cx="351.38" cy="284.37" r="1.8" fill="#fff" stroke="#1c1c1c" stroke-width="0.9"/>
<circle cx="351.68" cy="284.57" r="0.9" fill="none" stroke="#1c1c1c" stroke-width="0.6"/>
<path d="M336.58 270 L338.74 300.89 L331.55 300.89 L329.4 304.48 M340.89 270 L342.76 300.89 L338.74 300.89 M347.07 270 L347.64 288.68 L355.98 303.76 M342.76 300.89 L347.64 304.48 L347.64 288.68" fill="none" stroke="#1c1c1c" stroke-width="0.8" stroke-linejoin="round" stroke-linecap="round"/>
<path d="M393.05 284.08 L409.14 285.8 L401.95 278.62" fill="none" stroke="#1c1c1c" stroke-width="0.7" stroke-linejoin="round" stroke-linecap="round"/>
<path d="M393.05 284.08 L381.84 288.68 L388.3 278.62" fill="none" stroke="#1c1c1c" stroke-width="0.7" stroke-linejoin="round" stroke-linecap="round"/>
<path d="M393.05 284.08 L401.95 270" fill="none" stroke="#1c1c1c" stroke-width="0.7" stroke-linejoin="round" stroke-linecap="round"/>
<path d="M393.05 284.08 L396.21 271.44" fill="none" stroke="#1c1c1c" stroke-width="0.7" stroke-linejoin="round" stroke-linecap="round"/>
<path d="M393.05 284.08 L390.46 298.74 L394.77 291.55" fill="none" stroke="#1c1c1c" stroke-width="0.7" stroke-linejoin="round" stroke-linecap="round"/>
<path d="M393.05 284.08 L384.71 317.41 L388.3 313.1 L390.46 298.74" fill="none" stroke="#1c1c1c" stroke-width="0.7" stroke-linejoin="round" stroke-linecap="round"/>
<path d="M393.05 284.08 L410.57 290.11" fill="none" stroke="#1c1c1c" stroke-width="0.7" stroke-linejoin="round" stroke-linecap="round"/>
<path d="M381.84 288.68 L384.71 292.99 L390.46 290.11" fill="none" stroke="#1c1c1c" stroke-width="0.7" stroke-linejoin="round" stroke-linecap="round"/>
<path d="M394.77 282.93 L410.57 278.62 L413.45 270 M409.14 285.8 L413.45 288.68 L424.94 270" fill="none" stroke="#1c1c1c" stroke-width="0.6" stroke-linejoin="round" stroke-linecap="round"/>
<circle cx="393.05" cy="284.08" r="2" fill="#fff" stroke="#1c1c1c" stroke-width="0.9"/>
<circle cx="393.35" cy="284.28" r="1" fill="none" stroke="#1c1c1c" stroke-width="0.6"/>
<g transform="translate(374.66 310.95) rotate(24)">
<ellipse cx="0" cy="0" rx="11" ry="17.5" fill="#fff" stroke="#1c1c1c" stroke-width="0.7"/>
<ellipse cx="0.2" cy="0.2" rx="8" ry="13" fill="#fff" stroke="#1c1c1c" stroke-width="0.6"/>
<ellipse cx="0.5" cy="0.5" rx="4.6" ry="8" fill="#fff" stroke="#1c1c1c" stroke-width="0.9"/>
</g>
<path d="M357.41 303.76C357.27 304.7 355.91 311.16 355.98 313.1C356.05 315.04 357.27 321.44 358.13 323.16C358.99 324.89 363.09 329.2 364.6 330.34C366.11 331.49 372.36 334.22 373.22 334.66" fill="none" stroke="#1c1c1c" stroke-width="0.7" stroke-linejoin="round" stroke-linecap="round"/>
<path d="M373.22 334.66 L367.47 344.71 L364.6 352.61 M373.22 334.66 L377.53 340.4" fill="none" stroke="#1c1c1c" stroke-width="0.7" stroke-linejoin="round" stroke-linecap="round"/>
<path d="M383.28 311.67C383.13 312.53 381.7 318.42 381.84 320.29C381.98 322.16 384.07 328.62 384.71 330.34C385.36 332.07 387.95 336.81 388.3 337.53" fill="none" stroke="#1c1c1c" stroke-width="0.7" stroke-linejoin="round" stroke-linecap="round"/>
<path d="M331.55 311.67C331.98 312.24 334.93 316.62 335.86 317.41C336.8 318.2 340.03 318.99 340.89 319.57C341.75 320.14 344.2 322.37 344.48 323.16C344.77 323.95 343.98 326.75 343.76 327.47C343.55 328.19 342.47 330.06 342.33 330.34" fill="none" stroke="#1c1c1c" stroke-width="0.8" stroke-linejoin="round" stroke-linecap="round"/>
<g transform="translate(341.9 324.89) rotate(24)">
<ellipse cx="0" cy="0" rx="1.9" ry="3" fill="#fff" stroke="#1c1c1c" stroke-width="0.9"/>
<ellipse cx="0.2" cy="0.2" rx="0.9" ry="1.5" fill="#fff" stroke="#1c1c1c" stroke-width="0.6"/>
</g>
<path d="M344.48 326.75 L353.1 330.34 L357.41 331.78 M345.92 330.34 L351.67 334.66 L355.98 333.94" fill="none" stroke="#1c1c1c" stroke-width="0.7" stroke-linejoin="round" stroke-linecap="round"/>
<g transform="translate(367.47 349.31) rotate(24)">
<ellipse cx="0" cy="0" rx="1.4" ry="2.2" fill="#fff" stroke="#1c1c1c" stroke-width="0.8"/>
</g>
<g transform="translate(415.4 317.2) rotate(-62)">
<path d="M-24.51 -10.41 L-24.15 -10.63 L-23.78 -10.84 L-23.4 -11.05 L-23.02 -11.25 L-22.63 -11.46 L-22.23 -11.65 L-21.82 -11.85 L-21.41 -12.04 L-20.99 -12.23 L-20.57 -12.41 L-20.14 -12.59 L-19.7 -12.77 L-19.26 -12.94 L-18.81 -13.11 L-18.35 -13.27 L-17.89 -13.43 L-17.43 -13.59 L-16.96 -13.74 L-16.48 -13.89 L-16 -14.03 L-15.51 -14.17 L-15.02 -14.3 L-14.53 -14.43 L-14.03 -14.56 L-13.52 -14.68 L-13.02 -14.8 L-12.5 -14.91 L-11.99 -15.02 L-11.47 -15.12 L-10.94 -15.22 L-10.42 -15.32 L-9.89 -15.41 L-9.36 -15.49 L-8.82 -15.57 L-8.28 -15.65 L-7.74 -15.72 L-7.2 -15.78 L-6.65 -15.85 L-6.11 -15.9 L-5.56 -15.95 L-5.01 -16 L-4.45 -16.04 L-3.9 -16.08 L-3.34 -16.11 L-2.79 -16.14 L-2.23 -16.16 L-1.67 -16.18 L-1.12 -16.19 L-0.56 -16.2 L0 -16.2 L0.56 -16.2 L1.12 -16.19 L1.67 -16.18 L2.23 -16.16 L2.79 -16.14 L3.34 -16.11 L3.9 -16.08 L4.45 -16.04 L5.01 -16 L5.56 -15.95 L6.11 -15.9 L6.65 -15.85 L7.2 -15.78 L7.74 -15.72 L8.28 -15.65 L8.82 -15.57 L9.36 -15.49 L9.89 -15.41 L10.42 -15.32 L10.94 -15.22 L11.47 -15.12 L11.99 -15.02 L12.5 -14.91 L13.02 -14.8 L13.52 -14.68 L14.03 -14.56 L14.53 -14.43 L15.02 -14.3 L15.51 -14.17 L16 -14.03 L16.48 -13.89 L16.96 -13.74 L17.43 -13.59 L17.89 -13.43 L18.35 -13.27 L18.81 -13.11 L19.26 -12.94 L19.7 -12.77 L20.14 -12.59 L20.57 -12.41 L20.99 -12.23 L21.41 -12.04 L21.82 -11.85 L22.23 -11.65 L22.63 -11.46 L23.02 -11.25 L23.4 -11.05 L23.78 -10.84 L24.15 -10.63 L24.51 -10.41 L24.87 -10.19 L25.22 -9.97 L25.56 -9.75 L25.89 -9.52 L26.21 -9.29 L26.53 -9.06 L26.84 -8.82 L27.14 -8.58 L27.43 -8.34 L27.71 -8.1 L27.99 -7.85 L28.25 -7.61 L28.51 -7.35 L28.76 -7.1 L29 -6.85 L29.23 -6.59 L29.46 -6.33 L29.67 -6.07 L29.87 -5.81 L30.07 -5.54 L30.26 -5.27 L30.43 -5.01 L30.6 -4.74 L30.76 -4.47 L30.91 -4.19 L31.05 -3.92 L31.18 -3.64 L31.3 -3.37 L31.41 -3.09 L31.51 -2.81 L31.61 -2.53 L31.69 -2.25 L31.76 -1.97 L31.82 -1.69 L31.88 -1.41 L31.92 -1.13 L31.96 -0.85 L31.98 -0.57 L32 -0.28 L32 0 L32 0.28 L31.98 0.57 L31.96 0.85 L31.92 1.13 L31.88 1.41 L31.82 1.69 L31.76 1.97 L31.69 2.25 L31.61 2.53 L31.51 2.81 L31.41 3.09 L31.3 3.37 L31.18 3.64 L31.05 3.92 L30.91 4.19 L30.76 4.47 L30.6 4.74 L30.43 5.01 L30.26 5.27 L30.07 5.54 L29.87 5.81 L29.67 6.07 L29.46 6.33 L29.23 6.59 L29 6.85 L28.76 7.1 L28.51 7.35 L28.25 7.61 L27.99 7.85 L27.71 8.1 L27.43 8.34 L27.14 8.58 L26.84 8.82 L26.53 9.06 L26.21 9.29 L25.89 9.52 L25.56 9.75 L25.22 9.97 L24.87 10.19 L24.51 10.41 L24.15 10.63 L23.78 10.84 L23.4 11.05 L23.02 11.25 L22.63 11.46 L22.23 11.65 L21.82 11.85 L21.41 12.04 L20.99 12.23 L20.57 12.41 L20.14 12.59 L19.7 12.77 L19.26 12.94 L18.81 13.11 L18.35 13.27 L17.89 13.43 L17.43 13.59 L16.96 13.74 L16.48 13.89 L16 14.03 L15.51 14.17 L15.02 14.3 L14.53 14.43 L14.03 14.56 L13.52 14.68 L13.02 14.8 L12.5 14.91 L11.99 15.02 L11.47 15.12 L10.94 15.22 L10.42 15.32 L9.89 15.41 L9.36 15.49 L8.82 15.57 L8.28 15.65 L7.74 15.72 L7.2 15.78 L6.65 15.85 L6.11 15.9 L5.56 15.95 L5.01 16 L4.45 16.04 L3.9 16.08 L3.34 16.11 L2.79 16.14 L2.23 16.16 L1.67 16.18 L1.12 16.19 L0.56 16.2 L0 16.2 L-0.56 16.2 L-1.12 16.19 L-1.67 16.18 L-2.23 16.16 L-2.79 16.14 L-3.34 16.11 L-3.9 16.08 L-4.45 16.04 L-5.01 16 L-5.56 15.95 L-6.11 15.9 L-6.65 15.85 L-7.2 15.78 L-7.74 15.72 L-8.28 15.65 L-8.82 15.57 L-9.36 15.49 L-9.89 15.41 L-10.42 15.32 L-10.94 15.22 L-11.47 15.12 L-11.99 15.02 L-12.5 14.91 L-13.02 14.8 L-13.52 14.68 L-14.03 14.56 L-14.53 14.43 L-15.02 14.3 L-15.51 14.17 L-16 14.03" fill="#fff" stroke="#1c1c1c" stroke-width="1.3"/>
<path d="M-15.47 -12.85 L-14.99 -12.97 L-14.48 -13.07 L-13.96 -13.15 L-13.42 -13.2 L-12.87 -13.24 L-12.31 -13.26 L-11.74 -13.27 L-11.18 -13.27 L-10.61 -13.26 L-10.04 -13.24 L-9.49 -13.22 L-8.94 -13.2 L-8.4 -13.19 L-7.88 -13.18 L-7.36 -13.18 L-6.86 -13.2 L-6.36 -13.22 L-5.88 -13.26 L-5.4 -13.32 L-4.92 -13.39 L-4.45 -13.48 L-3.98 -13.58 L-3.5 -13.69 L-3.02 -13.8 L-2.54 -13.93 L-2.05 -14.05 L-1.55 -14.18 L-1.04 -14.3 L-0.52 -14.42 L0 -14.52 L0.53 -14.61 L1.07 -14.68 L1.61 -14.73 L2.15 -14.76 L2.69 -14.77 L3.23 -14.76 L3.77 -14.72 L4.29 -14.66 L4.81 -14.57 L5.32 -14.47 L5.81 -14.34 L6.29 -14.2 L6.76 -14.05 L7.22 -13.89 L7.66 -13.72 L8.1 -13.54 L8.52 -13.37 L8.94 -13.2 L9.36 -13.04 L9.77 -12.88 L10.19 -12.74 L10.62 -12.61 L11.05 -12.49 L11.5 -12.39 L11.96 -12.3 L12.43 -12.22 L12.91 -12.16 L13.42 -12.11 L13.94 -12.06 L14.47 -12.02 L15.01 -11.98 L15.56 -11.95 L16.12 -11.91 L16.68 -11.86 L17.24 -11.81 L17.79 -11.75 L18.33 -11.67 L18.85 -11.58 L19.35 -11.47 L19.83 -11.34 L20.28 -11.19 L20.7 -11.03 L21.08 -10.85 L21.43 -10.65 L21.75 -10.43 L22.03 -10.2 L22.27 -9.96 L22.49 -9.72 L22.68 -9.46 L22.85 -9.2 L23 -8.94 L23.14 -8.67 L23.28 -8.41 L23.41 -8.16 L23.55 -7.91 L23.69 -7.67 L23.86 -7.43 L24.04 -7.21 L24.25 -6.99 L24.48 -6.78 L24.74 -6.58 L25.03 -6.38 L25.35 -6.2 L25.69 -6.01 L26.05 -5.83 L26.43 -5.65 L26.83 -5.46 L27.23 -5.28 L27.63 -5.09 L28.03 -4.89 L28.42 -4.69 L28.78 -4.49 L29.13 -4.27 L29.43 -4.05 L29.71 -3.82 L29.94 -3.58 L30.12 -3.34 L30.26 -3.09 L30.34 -2.83 L30.38 -2.57 L30.37 -2.31 L30.32 -2.04 L30.23 -1.78 L30.1 -1.52 L29.94 -1.26 L29.76 -1 L29.56 -0.74 L29.35 -0.49 L29.14 -0.24 L28.93 0 L28.74 0.24 L28.56 0.48 L28.41 0.71 L28.28 0.95 L28.18 1.18 L28.11 1.42 L28.08 1.65 L28.07 1.89 L28.1 2.13 L28.15 2.38 L28.22 2.63 L28.3 2.89 L28.4 3.15 L28.5 3.41 L28.59 3.68 L28.68 3.94 L28.74 4.22 L28.78 4.49 L28.8 4.76 L28.77 5.02 L28.71 5.29 L28.61 5.54 L28.45 5.79 L28.26 6.04 L28.02 6.27 L27.73 6.49 L27.4 6.7 L27.04 6.9 L26.64 7.08 L26.21 7.26 L25.76 7.43 L25.3 7.58 L24.82 7.73 L24.35 7.88 L23.87 8.02 L23.41 8.16 L22.96 8.3 L22.52 8.44 L22.11 8.59 L21.72 8.74 L21.35 8.9 L21.01 9.07 L20.69 9.26 L20.39 9.45 L20.11 9.65 L19.85 9.86 L19.6 10.08 L19.36 10.32 L19.12 10.55 L18.88 10.79 L18.63 11.04 L18.37 11.28 L18.09 11.52 L17.79 11.75 L17.47 11.97 L17.12 12.18 L16.75 12.37 L16.35 12.55 L15.92 12.71 L15.47 12.85 L14.99 12.97 L14.48 13.07 L13.96 13.15 L13.42 13.2 L12.87 13.24 L12.31 13.26 L11.74 13.27 L11.18 13.27 L10.61 13.26 L10.04 13.24 L9.49 13.22 L8.94 13.2 L8.4 13.19 L7.88 13.18 L7.36 13.18 L6.86 13.2 L6.36 13.22 L5.88 13.26 L5.4 13.32 L4.92 13.39 L4.45 13.48 L3.98 13.58 L3.5 13.69 L3.02 13.8 L2.54 13.93 L2.05 14.05 L1.55 14.18 L1.04 14.3 L0.52 14.42 L0 14.52 L-0.53 14.61 L-1.07 14.68 L-1.61 14.73 L-2.15 14.76 L-2.69 14.77 L-3.23 14.76 L-3.77 14.72 L-4.29 14.66 L-4.81 14.57 L-5.32 14.47" fill="none" stroke="#1c1c1c" stroke-width="1.0"/>
</g>
<g transform="translate(410.8 315) rotate(-62)">
<ellipse cx="0" cy="0" rx="30" ry="14.2" fill="#fff" stroke="#1c1c1c" stroke-width="1.9"/>
</g>
<g transform="translate(440.03 295.57) rotate(30)">
<ellipse cx="0" cy="0" rx="2" ry="3" fill="#fff" stroke="#1c1c1c" stroke-width="0.9"/>
</g>
<g transform="translate(392.61 355.06) rotate(30)">
<ellipse cx="0" cy="0" rx="1.8" ry="2.6" fill="#fff" stroke="#1c1c1c" stroke-width="0.9"/>
</g>
<path d="M388.3 347.59 L394.77 344.71 L401.95 346.15 M390.46 352.61 L396.21 348.3" fill="none" stroke="#1c1c1c" stroke-width="0.8" stroke-linejoin="round" stroke-linecap="round"/>
<path d="M313 205 L317 205" fill="none" stroke="#444" stroke-width="0.8"/>
<path d="M319.5 205 L334 205" fill="none" stroke="#444" stroke-width="0.8"/>
<text x="302.5" y="209.8" font-size="13.4" text-anchor="middle">10</text>
</svg>

<div class="a b" style="left:629px;top:19px;">215 : Трансмиссия, D4162T</div>
<svg class="a" style="left:966px;top:7px" width="8" height="11" viewBox="0 0 8 11"><g fill="#222"><rect x="1" y="1" width="1" height="1"/><rect x="1" y="3" width="1" height="1"/><rect x="1" y="5" width="1" height="1"/><rect x="1" y="7" width="1" height="1"/><rect x="1" y="9" width="1" height="1"/><rect x="3" y="3" width="1" height="1"/><rect x="3" y="7" width="1" height="1"/><rect x="5" y="5" width="1" height="1"/></g></svg>
<div class="a b" style="left:976px;top:8px;letter-spacing:-0.13px;">ПЕЧАТЬ</div>
<svg class="a" style="left:966px;top:30px" width="48" height="11" viewBox="0 0 48 11"><g fill="#b7b7b7"><path d="M6 0.6v9.4L0.6 5.3z"/><path d="M12.6 0.6v9.4L7.2 5.3z"/><path d="M34 0.6v9.4l5.4-4.7z"/><path d="M40.6 0.6v9.4l5.4-4.7z"/></g></svg>
<div class="hd" style="left:626px;width:35px;line-height:29px"></div>
<div class="hd" style="left:663px;width:33px;line-height:29px">Рис.</div>
<div class="hd" style="left:698px;width:163px;line-height:29px">Описание</div>
<div class="hd" style="left:863px;width:75px;line-height:29px;letter-spacing:-0.2px">Количество</div>
<div class="hd" style="left:940px;width:34px;line-height:29px">PS</div>
<div class="hd" style="left:976px;width:90px;"><div style="width:77px;padding-top:1px;line-height:13px;">Номер<br>части</div></div>
<div class="row b" style="top:84px;height:27px;background:#94a8c1;"><span class="cb" style="top:11px"><svg width="11" height="11" viewBox="0 0 11 11"><path d="M2 5.2 L4.3 7.8 L9 2.2" fill="none" stroke="#111" stroke-width="1.7"/></svg></span><span class="t" style="left:45px;top:14px">1</span><span class="t d" style="left:79px;top:1px">Комплект зубчатых</span><span class="t d" style="left:79px;top:14px">ремней</span><span class="t" style="left:244px;top:14px">1.00</span><span class="t" style="left:357px;top:14px">31370046</span></div>
<div class="row" style="top:111px;height:20px;background:#dce8f0;"><span class="cb" style="top:4px"><svg width="11" height="11" viewBox="0 0 11 11"><path d="M2 5.2 L4.3 7.8 L9 2.2" fill="none" stroke="#111" stroke-width="1.7"/></svg></span><span class="t" style="left:45px;top:7px">2</span><span class="t dot" style="left:86px;top:4px;font-size:13px">•</span><span class="t d" style="left:111px;top:4px">холостой шкив</span><span class="t" style="left:244px;top:7px">1.00</span><span class="t" style="left:357px;top:7px">31339887</span></div>
<div class="row" style="top:131px;height:20px;background:#ffffff;"><span class="cb" style="top:4px"><svg width="11" height="11" viewBox="0 0 11 11"><path d="M2 5.2 L4.3 7.8 L9 2.2" fill="none" stroke="#111" stroke-width="1.7"/></svg></span><span class="t" style="left:45px;top:7px">3</span><span class="t dot" style="left:86px;top:4px;font-size:13px">•</span><span class="t d" style="left:111px;top:4px">натяжной шкив</span><span class="t" style="left:244px;top:7px">1.00</span><span class="t" style="left:357px;top:7px">31370047</span></div>
<div class="row" style="top:151px;height:33px;background:#dce8f0;"><span class="cb" style="top:4px"></span><span class="t" style="left:45px;top:7px">4</span><span class="t d" style="left:79px;top:7px">гайка фланца</span><span class="t sub d" style="left:86px;top:21px">M10</span><span class="t" style="left:244px;top:7px">1.00</span><span class="t" style="left:357px;top:7px">31272567</span></div>
<div class="row" style="top:184px;height:33px;background:#ffffff;"><span class="cb" style="top:4px"></span><span class="t" style="left:45px;top:7px">5</span><span class="t d" style="left:79px;top:7px">винт фланца</span><span class="t sub d" style="left:86px;top:21px">M8x60</span><span class="t" style="left:244px;top:7px">1.00</span><span class="t" style="left:357px;top:7px">31330197</span></div>
<div class="row" style="top:217px;height:20px;background:#dce8f0;"><span class="cb" style="top:4px"></span><span class="t" style="left:45px;top:8px">6</span><span class="t d" style="left:79px;top:8px">шкив</span><span class="t" style="left:244px;top:8px">1.00</span><span class="t" style="left:357px;top:8px">31330199</span></div>
<div class="row" style="top:237px;height:20px;background:#ffffff;"><span class="cb" style="top:4px"></span><span class="t" style="left:45px;top:8px">7</span><span class="t d" style="left:79px;top:8px">распредвал</span><span class="t" style="left:244px;top:8px">1.00</span><span class="t" style="left:357px;top:8px">31330194</span></div>
<div class="row" style="top:257px;height:34px;background:#dce8f0;"><span class="cb" style="top:4px"></span><span class="t" style="left:45px;top:8px">8</span><span class="t d" style="left:79px;top:8px">винт</span><span class="t sub d" style="left:86px;top:21px">M10x25</span><span class="t" style="left:244px;top:8px">1.00</span><span class="t" style="left:357px;top:8px">31259240</span></div>
<div class="row" style="top:291px;height:20px;background:#ffffff;"><span class="cb" style="top:4px"></span><span class="t" style="left:45px;top:7px">9</span><span class="t d" style="left:79px;top:7px">уплотн. кольцо</span><span class="t" style="left:244px;top:7px">1.00</span><span class="t" style="left:357px;top:7px">31316971</span></div>
<div class="row" style="top:311px;height:26px;background:#dce8f0;"><span class="cb" style="top:10px"></span><span class="t" style="left:45px;top:14px">10</span><span class="t d" style="left:79px;top:0px">ограждение ремня,</span><span class="t d" style="left:79px;top:14px">нижний</span><span class="t" style="left:244px;top:14px">1.00</span><span class="t" style="left:357px;top:14px">31370539</span></div>
<div class="row" style="top:337px;height:27px;background:#ffffff;"><span class="cb" style="top:11px"></span><span class="t" style="left:45px;top:14px">11</span><span class="t d" style="left:79px;top:1px">ограждение ремня,</span><span class="t d" style="left:79px;top:14px">верхний</span><span class="t" style="left:244px;top:14px">1.00</span><span class="t" style="left:357px;top:14px">31330191</span></div>
<div class="row" style="top:364px;height:33px;background:#dce8f0;"><span class="cb" style="top:4px"><svg width="11" height="11" viewBox="0 0 11 11"><path d="M2 5.2 L4.3 7.8 L9 2.2" fill="none" stroke="#111" stroke-width="1.7"/></svg></span><span class="t" style="left:45px;top:7px">12</span><span class="t d" style="left:79px;top:7px">винт с шайбой</span><span class="t sub d" style="left:86px;top:21px">M12x50</span><span class="t" style="left:244px;top:7px">1.00</span><span class="t" style="left:357px;top:7px">31259237</span></div>
<div class="row" style="top:397px;height:20px;background:#ffffff;"><span class="cb dis" style="top:4px"></span><span class="t" style="left:45px;top:8px">13</span><span class="t dot" style="left:86px;top:5px;font-size:13px">•</span><span class="t d" style="left:111px;top:5px">шайба</span><span class="t" style="left:244px;top:8px">1.00</span><span class="t" style="left:321px;top:8px">NS</span></div>
<div class="row" style="top:417px;height:20px;background:#dce8f0;"><span class="cb" style="top:4px"></span><span class="t" style="left:45px;top:8px">14</span><span class="t d" style="left:79px;top:8px">шкив</span><span class="t" style="left:244px;top:8px">1.00</span><span class="t" style="left:357px;top:8px">31422399</span></div>
<div class="row" style="top:437px;height:20px;background:#ffffff;"><span class="cb" style="top:4px"></span><span class="t" style="left:45px;top:8px">15</span><span class="t d" style="left:79px;top:8px">уплотн. кольцо</span><span class="t" style="left:244px;top:8px">1.00</span><span class="t" style="left:357px;top:8px">31258205</span></div>
<div class="row" style="top:457px;height:34px;background:#dce8f0;"><span class="cb dis" style="top:4px"></span><span class="t" style="left:45px;top:8px">16</span><a class="t lk d" style="left:86px;top:22px">Система управл., зажигание</a><span class="t" style="left:244px;top:8px">0.00</span></div>
<svg class="a" style="left:916px;top:580px" width="8" height="11" viewBox="0 0 8 11"><g fill="#222"><rect x="1" y="1" width="1" height="1"/><rect x="1" y="3" width="1" height="1"/><rect x="1" y="5" width="1" height="1"/><rect x="1" y="7" width="1" height="1"/><rect x="1" y="9" width="1" height="1"/><rect x="3" y="3" width="1" height="1"/><rect x="3" y="7" width="1" height="1"/><rect x="5" y="5" width="1" height="1"/></g></svg>
<div class="a b" style="left:927px;top:579px;letter-spacing:0.05px;">ДОБАВИТЬ В СПИСОК</div>
<div class="a" style="left:906px;top:593px;width:170px;height:19px;border:1px solid #7a7a7a;background:#fff;font-family:'Liberation Sans',sans-serif;font-size:13px;line-height:19px;"><span style="padding-left:4px;letter-spacing:0px">Новый Каталог частей</span><svg style="position:absolute;left:147px;top:6px" width="10" height="8" viewBox="0 0 10 8"><path d="M1 1.5l4 4 4-4" fill="none" stroke="#222" stroke-width="1.8"/></svg></div>
<div class="a" style="left:625px;top:618px;width:431px;height:24px;background:#737988;"></div>
<div class="a b" style="left:635px;top:619px;color:#fff;letter-spacing:-0.2px;">КОММЕНТАРИИ</div>
<div class="a" style="left:625px;top:642px;width:431px;height:54px;background:#dbe7ef;"></div>
<div class="a" style="left:628px;top:650px;width:338px;height:31px;border:1px solid #767676;background:#fff;"><div style="position:absolute;right:0;top:0;width:17px;height:31px;background:#f0f0f0;"><svg width="17" height="31" viewBox="0 0 17 31"><path d="M3.5 11.5l5-5 5 5M3.5 20l5 5 5-5" fill="none" stroke="#bdbdbd" stroke-width="2"/></svg></div></div>
</body></html>
